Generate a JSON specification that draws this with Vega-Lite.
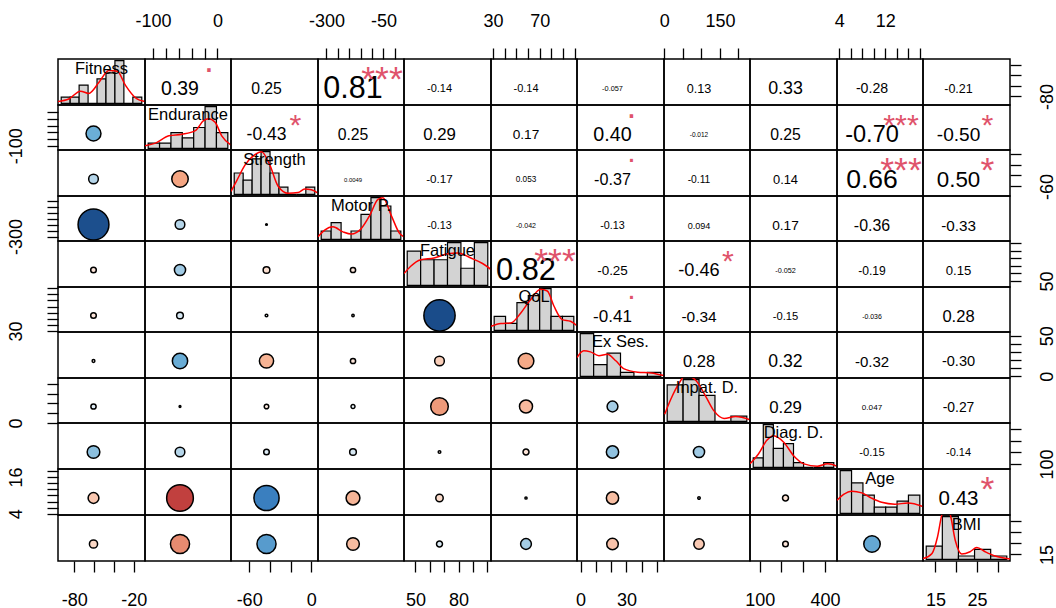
{"$schema":"https://vega.github.io/schema/vega-lite/v6.json","background":"white","padding":{"left":6,"top":11,"right":0,"bottom":0},"spacing":0,"bounds":"flush","columns":11,
"resolve":{"scale":{"x":"independent","y":"independent","color":"independent","size":"independent"}},
"config":{"view":{"stroke":"black","strokeWidth":1.5},"font":"Liberation Sans","text":{"font":"Liberation Sans","color":"black","baseline":"middle","align":"center"},"axis":{"domain":false,"grid":false,"tickSize":11,"tickWidth":1.3,"tickColor":"black","labelColor":"black","labelFontSize":18,"labelFont":"Liberation Sans","labelFlush":false,"labelOverlap":false,"labelBound":false}},
"concat":[
{"width":87,"height":46,"layer":[
{"data":{"values":[{"b0":-100,"b1":-90,"n":1},{"b0":-90,"b1":-80,"n":1},{"b0":-80,"b1":-70,"n":3},{"b0":-70,"b1":-60,"n":0},{"b0":-60,"b1":-50,"n":4},{"b0":-50,"b1":-40,"n":5},{"b0":-40,"b1":-30,"n":7},{"b0":-30,"b1":-20,"n":0},{"b0":-20,"b1":-10,"n":1}]},"mark":{"type":"rect","fill":"#D3D3D3","stroke":"black","strokeWidth":1.2,"clip":true},"encoding":{"x":{"field":"b0","type":"quantitative","scale":{"domain":[-103.6,-6.4],"nice":false,"zero":false},"axis":null},"x2":{"field":"b1"},"y":{"field":"n","type":"quantitative","scale":{"domain":[-0.28,7.28],"nice":false,"zero":false},"axis":null},"y2":{"datum":0}}},
{"data":{"values":[{"x":-103.6,"y":0.29},{"x":-91.6,"y":0.7},{"x":-78.5,"y":2.0},{"x":-69.2,"y":1.63},{"x":-58,"y":3.4},{"x":-46.8,"y":5.4},{"x":-37.4,"y":5.25},{"x":-28,"y":2.9},{"x":-16.8,"y":0.875},{"x":-6.4,"y":0.29}]},"mark":{"type":"line","color":"#FF0000","strokeWidth":1.5,"clip":true,"interpolate":"monotone"},"encoding":{"x":{"field":"x","type":"quantitative","scale":{"domain":[-103.6,-6.4],"nice":false,"zero":false},"axis":null},"y":{"field":"y","type":"quantitative","scale":{"domain":[-0.28,7.28],"nice":false,"zero":false},"axis":null}}},
{"data":{"values":[{"name":"Fitness"}]},"mark":{"type":"text","fontSize":16.5,"dy":-13},"encoding":{"text":{"field":"name"}}}]},
{"width":86,"height":46,"data":{"values":[{"r":0.39,"absr":0.39,"label":"0.39","sig":"."}]},"layer":[
{"mark":{"type":"text","dx":-8,"dy":7},"encoding":{"text":{"field":"label"},"size":{"field":"absr","type":"quantitative","scale":{"domain":[0,1],"range":[9.2,35.5]},"legend":null}}},
{"mark":{"type":"text","color":"#DF536B","fontSize":35.6,"dx":21,"dy":-21},"encoding":{"text":{"field":"sig"}}},
{"data":{"values":[{"v":-112.5},{"v":21}]},"mark":{"type":"point","opacity":0},"encoding":{"x":{"field":"v","type":"quantitative","scale":{"domain":[-112.5,21],"nice":false,"zero":false},"axis":{"orient":"top","title":null,"labelPadding":18,"values":[-100,-80,-60,-40,-20,0],"labelExpr":"datum.value == -100 || datum.value == 0 ? '' + datum.value : ''"}}}}]},
{"width":87,"height":46,"data":{"values":[{"r":0.25,"absr":0.25,"label":"0.25"}]},"layer":[
{"mark":{"type":"text","dx":-8,"dy":7},"encoding":{"text":{"field":"label"},"size":{"field":"absr","type":"quantitative","scale":{"domain":[0,1],"range":[9.2,35.5]},"legend":null}}},
{"mark":{"type":"point","opacity":0},"encoding":{"x":{"field":"absr","type":"quantitative","axis":null},"y":{"field":"absr","type":"quantitative","axis":null}}}]},
{"width":86,"height":46,"data":{"values":[{"r":0.81,"absr":0.81,"label":"0.81","sig":"***"}]},"layer":[
{"mark":{"type":"text","dx":-8,"dy":7},"encoding":{"text":{"field":"label"},"size":{"field":"absr","type":"quantitative","scale":{"domain":[0,1],"range":[9.2,35.5]},"legend":null}}},
{"mark":{"type":"text","color":"#DF536B","fontSize":35.6,"dx":21,"dy":-2},"encoding":{"text":{"field":"sig"}}},
{"data":{"values":[{"v":-337},{"v":40}]},"mark":{"type":"point","opacity":0},"encoding":{"x":{"field":"v","type":"quantitative","scale":{"domain":[-337,40],"nice":false,"zero":false},"axis":{"orient":"top","title":null,"labelPadding":18,"values":[-300,-250,-200,-150,-100,-50,0],"labelExpr":"datum.value == -300 || datum.value == -50 ? '' + datum.value : ''"}}}}]},
{"width":87,"height":46,"data":{"values":[{"r":-0.14,"absr":0.14,"label":"-0.14"}]},"layer":[
{"mark":{"type":"text","dx":-8,"dy":7},"encoding":{"text":{"field":"label"},"size":{"field":"absr","type":"quantitative","scale":{"domain":[0,1],"range":[7.85,30.3]},"legend":null}}},
{"mark":{"type":"point","opacity":0},"encoding":{"x":{"field":"absr","type":"quantitative","axis":null},"y":{"field":"absr","type":"quantitative","axis":null}}}]},
{"width":86,"height":46,"data":{"values":[{"r":-0.14,"absr":0.14,"label":"-0.14"}]},"layer":[
{"mark":{"type":"text","dx":-8,"dy":7},"encoding":{"text":{"field":"label"},"size":{"field":"absr","type":"quantitative","scale":{"domain":[0,1],"range":[7.85,30.3]},"legend":null}}},
{"data":{"values":[{"v":28.2},{"v":102.1}]},"mark":{"type":"point","opacity":0},"encoding":{"x":{"field":"v","type":"quantitative","scale":{"domain":[28.2,102.1],"nice":false,"zero":false},"axis":{"orient":"top","title":null,"labelPadding":18,"values":[30,40,50,60,70,80,90,100],"labelExpr":"datum.value == 30 || datum.value == 70 ? '' + datum.value : ''"}}}}]},
{"width":87,"height":46,"data":{"values":[{"r":-0.057,"absr":0.057,"label":"-0.057"}]},"layer":[
{"mark":{"type":"text","dx":-8,"dy":7},"encoding":{"text":{"field":"label"},"size":{"field":"absr","type":"quantitative","scale":{"domain":[0,1],"range":[6.31,24.4]},"legend":null}}},
{"mark":{"type":"point","opacity":0},"encoding":{"x":{"field":"absr","type":"quantitative","axis":null},"y":{"field":"absr","type":"quantitative","axis":null}}}]},
{"width":86,"height":46,"data":{"values":[{"r":0.13,"absr":0.13,"label":"0.13"}]},"layer":[
{"mark":{"type":"text","dx":-8,"dy":7},"encoding":{"text":{"field":"label"},"size":{"field":"absr","type":"quantitative","scale":{"domain":[0,1],"range":[9.2,35.5]},"legend":null}}},
{"data":{"values":[{"v":-0.5},{"v":231}]},"mark":{"type":"point","opacity":0},"encoding":{"x":{"field":"v","type":"quantitative","scale":{"domain":[-0.5,231],"nice":false,"zero":false},"axis":{"orient":"top","title":null,"labelPadding":18,"values":[0,50,100,150,200],"labelExpr":"datum.value == 0 || datum.value == 150 ? '' + datum.value : ''"}}}}]},
{"width":87,"height":46,"data":{"values":[{"r":0.33,"absr":0.33,"label":"0.33"}]},"layer":[
{"mark":{"type":"text","dx":-8,"dy":7},"encoding":{"text":{"field":"label"},"size":{"field":"absr","type":"quantitative","scale":{"domain":[0,1],"range":[9.2,35.5]},"legend":null}}},
{"mark":{"type":"point","opacity":0},"encoding":{"x":{"field":"absr","type":"quantitative","axis":null},"y":{"field":"absr","type":"quantitative","axis":null}}}]},
{"width":86,"height":46,"data":{"values":[{"r":-0.28,"absr":0.28,"label":"-0.28"}]},"layer":[
{"mark":{"type":"text","dx":-8,"dy":7},"encoding":{"text":{"field":"label"},"size":{"field":"absr","type":"quantitative","scale":{"domain":[0,1],"range":[7.85,30.3]},"legend":null}}},
{"data":{"values":[{"v":3.6},{"v":18.6}]},"mark":{"type":"point","opacity":0},"encoding":{"x":{"field":"v","type":"quantitative","scale":{"domain":[3.6,18.6],"nice":false,"zero":false},"axis":{"orient":"top","title":null,"labelPadding":18,"values":[4,6,8,10,12,14,16,18],"labelExpr":"datum.value == 4 || datum.value == 12 ? '' + datum.value : ''"}}}}]},
{"width":87,"height":46,"data":{"values":[{"r":-0.21,"absr":0.21,"label":"-0.21"}]},"layer":[
{"mark":{"type":"text","dx":-8,"dy":7},"encoding":{"text":{"field":"label"},"size":{"field":"absr","type":"quantitative","scale":{"domain":[0,1],"range":[7.85,30.3]},"legend":null}}},
{"data":{"values":[{"v":-96.3},{"v":-8.8}]},"mark":{"type":"point","opacity":0},"encoding":{"y":{"field":"v","type":"quantitative","scale":{"domain":[-96.3,-8.8],"nice":false,"zero":false},"axis":{"orient":"right","title":null,"labelPadding":17,"labelAngle":-90,"labelAlign":"center","labelBaseline":"top","values":[-80,-60,-40,-20],"labelExpr":"datum.value == -80 ? '' + datum.value : ''"}}}}]},

{"width":87,"height":45,"data":{"values":[{"r":0.39,"absr":0.39}]},"layer":[
{"mark":{"type":"circle","stroke":"black","strokeWidth":1.5,"opacity":1},"encoding":{"color":{"field":"r","type":"quantitative","scale":{"domain":[-1,-0.7,-0.43,-0.2,0,0.2,0.39,0.66,0.82,1],"range":["#67001f","#c1403e","#f4a582","#fbd9c8","#ffffff","#cfe3f0","#6baed6","#3a7fbf","#1a4c8a","#08306b"],"interpolate":"rgb"},"legend":null},"size":{"field":"absr","type":"quantitative","scale":{"type":"pow","exponent":2,"domain":[0,1],"range":[3,1452]},"legend":null},"xOffset":{"value":-8},"yOffset":{"value":6}}},
{"data":{"values":[{"v":-112.5},{"v":21}]},"mark":{"type":"point","opacity":0},"encoding":{"y":{"field":"v","type":"quantitative","scale":{"domain":[-112.5,21],"nice":false,"zero":false},"axis":{"orient":"left","title":null,"labelPadding":22,"labelAngle":-90,"labelAlign":"center","labelBaseline":"bottom","values":[-100,-80,-60,-40,-20,0],"labelExpr":"datum.value == -100 ? '' + datum.value : ''"}}}}]},
{"width":86,"height":45,"layer":[
{"data":{"values":[{"b0":-120,"b1":-100,"n":1},{"b0":-100,"b1":-80,"n":1},{"b0":-80,"b1":-60,"n":3},{"b0":-60,"b1":-40,"n":2},{"b0":-40,"b1":-20,"n":4},{"b0":-20,"b1":0,"n":8},{"b0":0,"b1":20,"n":3}]},"mark":{"type":"rect","fill":"#D3D3D3","stroke":"black","strokeWidth":1.2,"clip":true},"encoding":{"x":{"field":"b0","type":"quantitative","scale":{"domain":[-125.6,25.6],"nice":false,"zero":false},"axis":null},"x2":{"field":"b1"},"y":{"field":"n","type":"quantitative","scale":{"domain":[-0.32,8.32],"nice":false,"zero":false},"axis":null},"y2":{"datum":0}}},
{"data":{"values":[{"x":-125.6,"y":0.5},{"x":-107,"y":1.0},{"x":-83.7,"y":2.4},{"x":-60.5,"y":2.7},{"x":-37.2,"y":3.4},{"x":-22.7,"y":5.3},{"x":-14,"y":5.7},{"x":-2.3,"y":5.0},{"x":9.3,"y":2.4},{"x":25.6,"y":0.63}]},"mark":{"type":"line","color":"#FF0000","strokeWidth":1.5,"clip":true,"interpolate":"monotone"},"encoding":{"x":{"field":"x","type":"quantitative","scale":{"domain":[-125.6,25.6],"nice":false,"zero":false},"axis":null},"y":{"field":"y","type":"quantitative","scale":{"domain":[-0.32,8.32],"nice":false,"zero":false},"axis":null}}},
{"data":{"values":[{"name":"Endurance"}]},"mark":{"type":"text","fontSize":16.5,"dy":-13},"encoding":{"text":{"field":"name"}}}]},
{"width":87,"height":45,"data":{"values":[{"r":-0.43,"absr":0.43,"label":"-0.43","sig":"*"}]},"layer":[
{"mark":{"type":"text","dx":-8,"dy":7},"encoding":{"text":{"field":"label"},"size":{"field":"absr","type":"quantitative","scale":{"domain":[0,1],"range":[7.85,30.3]},"legend":null}}},
{"mark":{"type":"text","color":"#DF536B","fontSize":30.4,"dx":21,"dy":-2},"encoding":{"text":{"field":"sig"}}},
{"mark":{"type":"point","opacity":0},"encoding":{"x":{"field":"absr","type":"quantitative","axis":null},"y":{"field":"absr","type":"quantitative","axis":null}}}]},
{"width":86,"height":45,"data":{"values":[{"r":0.25,"absr":0.25,"label":"0.25"}]},"layer":[
{"mark":{"type":"text","dx":-8,"dy":7},"encoding":{"text":{"field":"label"},"size":{"field":"absr","type":"quantitative","scale":{"domain":[0,1],"range":[9.2,35.5]},"legend":null}}},
{"mark":{"type":"point","opacity":0},"encoding":{"x":{"field":"absr","type":"quantitative","axis":null},"y":{"field":"absr","type":"quantitative","axis":null}}}]},
{"width":87,"height":45,"data":{"values":[{"r":0.29,"absr":0.29,"label":"0.29"}]},"layer":[
{"mark":{"type":"text","dx":-8,"dy":7},"encoding":{"text":{"field":"label"},"size":{"field":"absr","type":"quantitative","scale":{"domain":[0,1],"range":[9.2,35.5]},"legend":null}}},
{"mark":{"type":"point","opacity":0},"encoding":{"x":{"field":"absr","type":"quantitative","axis":null},"y":{"field":"absr","type":"quantitative","axis":null}}}]},
{"width":86,"height":45,"data":{"values":[{"r":0.17,"absr":0.17,"label":"0.17"}]},"layer":[
{"mark":{"type":"text","dx":-8,"dy":7},"encoding":{"text":{"field":"label"},"size":{"field":"absr","type":"quantitative","scale":{"domain":[0,1],"range":[9.2,35.5]},"legend":null}}},
{"mark":{"type":"point","opacity":0},"encoding":{"x":{"field":"absr","type":"quantitative","axis":null},"y":{"field":"absr","type":"quantitative","axis":null}}}]},
{"width":87,"height":45,"data":{"values":[{"r":0.40,"absr":0.40,"label":"0.40","sig":"."}]},"layer":[
{"mark":{"type":"text","dx":-8,"dy":7},"encoding":{"text":{"field":"label"},"size":{"field":"absr","type":"quantitative","scale":{"domain":[0,1],"range":[9.2,35.5]},"legend":null}}},
{"mark":{"type":"text","color":"#DF536B","fontSize":35.6,"dx":11,"dy":-21},"encoding":{"text":{"field":"sig"}}},
{"mark":{"type":"point","opacity":0},"encoding":{"x":{"field":"absr","type":"quantitative","axis":null},"y":{"field":"absr","type":"quantitative","axis":null}}}]},
{"width":86,"height":45,"data":{"values":[{"r":-0.012,"absr":0.012,"label":"-0.012"}]},"layer":[
{"mark":{"type":"text","dx":-8,"dy":7},"encoding":{"text":{"field":"label"},"size":{"field":"absr","type":"quantitative","scale":{"domain":[0,1],"range":[6.31,24.4]},"legend":null}}},
{"mark":{"type":"point","opacity":0},"encoding":{"x":{"field":"absr","type":"quantitative","axis":null},"y":{"field":"absr","type":"quantitative","axis":null}}}]},
{"width":87,"height":45,"data":{"values":[{"r":0.25,"absr":0.25,"label":"0.25"}]},"layer":[
{"mark":{"type":"text","dx":-8,"dy":7},"encoding":{"text":{"field":"label"},"size":{"field":"absr","type":"quantitative","scale":{"domain":[0,1],"range":[9.2,35.5]},"legend":null}}},
{"mark":{"type":"point","opacity":0},"encoding":{"x":{"field":"absr","type":"quantitative","axis":null},"y":{"field":"absr","type":"quantitative","axis":null}}}]},
{"width":86,"height":45,"data":{"values":[{"r":-0.70,"absr":0.70,"label":"-0.70","sig":"***"}]},"layer":[
{"mark":{"type":"text","dx":-8,"dy":7},"encoding":{"text":{"field":"label"},"size":{"field":"absr","type":"quantitative","scale":{"domain":[0,1],"range":[7.85,30.3]},"legend":null}}},
{"mark":{"type":"text","color":"#DF536B","fontSize":30.4,"dx":21,"dy":-2},"encoding":{"text":{"field":"sig"}}},
{"mark":{"type":"point","opacity":0},"encoding":{"x":{"field":"absr","type":"quantitative","axis":null},"y":{"field":"absr","type":"quantitative","axis":null}}}]},
{"width":87,"height":45,"data":{"values":[{"r":-0.50,"absr":0.50,"label":"-0.50","sig":"*"}]},"layer":[
{"mark":{"type":"text","dx":-8,"dy":7},"encoding":{"text":{"field":"label"},"size":{"field":"absr","type":"quantitative","scale":{"domain":[0,1],"range":[7.85,30.3]},"legend":null}}},
{"mark":{"type":"text","color":"#DF536B","fontSize":30.4,"dx":21,"dy":-2},"encoding":{"text":{"field":"sig"}}},
{"mark":{"type":"point","opacity":0},"encoding":{"x":{"field":"absr","type":"quantitative","axis":null},"y":{"field":"absr","type":"quantitative","axis":null}}}]},

{"width":87,"height":46,"data":{"values":[{"r":0.25,"absr":0.25}]},"layer":[
{"mark":{"type":"circle","stroke":"black","strokeWidth":1.5,"opacity":1},"encoding":{"color":{"field":"r","type":"quantitative","scale":{"domain":[-1,-0.7,-0.43,-0.2,0,0.2,0.39,0.66,0.82,1],"range":["#67001f","#c1403e","#f4a582","#fbd9c8","#ffffff","#cfe3f0","#6baed6","#3a7fbf","#1a4c8a","#08306b"],"interpolate":"rgb"},"legend":null},"size":{"field":"absr","type":"quantitative","scale":{"type":"pow","exponent":2,"domain":[0,1],"range":[3,1452]},"legend":null},"xOffset":{"value":-8},"yOffset":{"value":6}}},
{"mark":{"type":"point","opacity":0},"encoding":{"x":{"field":"absr","type":"quantitative","axis":null},"y":{"field":"absr","type":"quantitative","axis":null}}}]},
{"width":86,"height":46,"data":{"values":[{"r":-0.43,"absr":0.43}]},"layer":[
{"mark":{"type":"circle","stroke":"black","strokeWidth":1.5,"opacity":1},"encoding":{"color":{"field":"r","type":"quantitative","scale":{"domain":[-1,-0.7,-0.43,-0.2,0,0.2,0.39,0.66,0.82,1],"range":["#67001f","#c1403e","#f4a582","#fbd9c8","#ffffff","#cfe3f0","#6baed6","#3a7fbf","#1a4c8a","#08306b"],"interpolate":"rgb"},"legend":null},"size":{"field":"absr","type":"quantitative","scale":{"type":"pow","exponent":2,"domain":[0,1],"range":[3,1452]},"legend":null},"xOffset":{"value":-8},"yOffset":{"value":6}}},
{"mark":{"type":"point","opacity":0},"encoding":{"x":{"field":"absr","type":"quantitative","axis":null},"y":{"field":"absr","type":"quantitative","axis":null}}}]},
{"width":87,"height":46,"layer":[
{"data":{"values":[{"b0":-80,"b1":-70,"n":3},{"b0":-70,"b1":-60,"n":2},{"b0":-60,"b1":-50,"n":5},{"b0":-50,"b1":-40,"n":6},{"b0":-40,"b1":-30,"n":3},{"b0":-30,"b1":-20,"n":1},{"b0":-20,"b1":-10,"n":0},{"b0":-10,"b1":0,"n":0},{"b0":0,"b1":10,"n":1}]},"mark":{"type":"rect","fill":"#D3D3D3","stroke":"black","strokeWidth":1.2,"clip":true},"encoding":{"x":{"field":"b0","type":"quantitative","scale":{"domain":[-83.6,13.6],"nice":false,"zero":false},"axis":null},"x2":{"field":"b1"},"y":{"field":"n","type":"quantitative","scale":{"domain":[-0.24,6.24],"nice":false,"zero":false},"axis":null},"y2":{"datum":0}}},
{"data":{"values":[{"x":-83.6,"y":0.4},{"x":-77.3,"y":1.9},{"x":-68,"y":4.1},{"x":-56.9,"y":5.6},{"x":-49.5,"y":6.0},{"x":-40.2,"y":4.1},{"x":-30.9,"y":1.14},{"x":-19.8,"y":0.15},{"x":-8.7,"y":0.25},{"x":-1.3,"y":0.74},{"x":6.1,"y":0.64},{"x":13.6,"y":0.15}]},"mark":{"type":"line","color":"#FF0000","strokeWidth":1.5,"clip":true,"interpolate":"monotone"},"encoding":{"x":{"field":"x","type":"quantitative","scale":{"domain":[-83.6,13.6],"nice":false,"zero":false},"axis":null},"y":{"field":"y","type":"quantitative","scale":{"domain":[-0.24,6.24],"nice":false,"zero":false},"axis":null}}},
{"data":{"values":[{"name":"Strength"}]},"mark":{"type":"text","fontSize":16.5,"dy":-13},"encoding":{"text":{"field":"name"}}}]},
{"width":86,"height":46,"data":{"values":[{"r":0.0049,"absr":0.0049,"label":"0.0049"}]},"layer":[
{"mark":{"type":"text","dx":-8,"dy":7},"encoding":{"text":{"field":"label"},"size":{"field":"absr","type":"quantitative","scale":{"domain":[0,1],"range":[5.85,22.6]},"legend":null}}},
{"mark":{"type":"point","opacity":0},"encoding":{"x":{"field":"absr","type":"quantitative","axis":null},"y":{"field":"absr","type":"quantitative","axis":null}}}]},
{"width":87,"height":46,"data":{"values":[{"r":-0.17,"absr":0.17,"label":"-0.17"}]},"layer":[
{"mark":{"type":"text","dx":-8,"dy":7},"encoding":{"text":{"field":"label"},"size":{"field":"absr","type":"quantitative","scale":{"domain":[0,1],"range":[7.85,30.3]},"legend":null}}},
{"mark":{"type":"point","opacity":0},"encoding":{"x":{"field":"absr","type":"quantitative","axis":null},"y":{"field":"absr","type":"quantitative","axis":null}}}]},
{"width":86,"height":46,"data":{"values":[{"r":0.053,"absr":0.053,"label":"0.053"}]},"layer":[
{"mark":{"type":"text","dx":-8,"dy":7},"encoding":{"text":{"field":"label"},"size":{"field":"absr","type":"quantitative","scale":{"domain":[0,1],"range":[7.15,27.6]},"legend":null}}},
{"mark":{"type":"point","opacity":0},"encoding":{"x":{"field":"absr","type":"quantitative","axis":null},"y":{"field":"absr","type":"quantitative","axis":null}}}]},
{"width":87,"height":46,"data":{"values":[{"r":-0.37,"absr":0.37,"label":"-0.37","sig":"."}]},"layer":[
{"mark":{"type":"text","dx":-8,"dy":7},"encoding":{"text":{"field":"label"},"size":{"field":"absr","type":"quantitative","scale":{"domain":[0,1],"range":[7.85,30.3]},"legend":null}}},
{"mark":{"type":"text","color":"#DF536B","fontSize":30.4,"dx":11,"dy":-19.6},"encoding":{"text":{"field":"sig"}}},
{"mark":{"type":"point","opacity":0},"encoding":{"x":{"field":"absr","type":"quantitative","axis":null},"y":{"field":"absr","type":"quantitative","axis":null}}}]},
{"width":86,"height":46,"data":{"values":[{"r":-0.11,"absr":0.11,"label":"-0.11"}]},"layer":[
{"mark":{"type":"text","dx":-8,"dy":7},"encoding":{"text":{"field":"label"},"size":{"field":"absr","type":"quantitative","scale":{"domain":[0,1],"range":[7.85,30.3]},"legend":null}}},
{"mark":{"type":"point","opacity":0},"encoding":{"x":{"field":"absr","type":"quantitative","axis":null},"y":{"field":"absr","type":"quantitative","axis":null}}}]},
{"width":87,"height":46,"data":{"values":[{"r":0.14,"absr":0.14,"label":"0.14"}]},"layer":[
{"mark":{"type":"text","dx":-8,"dy":7},"encoding":{"text":{"field":"label"},"size":{"field":"absr","type":"quantitative","scale":{"domain":[0,1],"range":[9.2,35.5]},"legend":null}}},
{"mark":{"type":"point","opacity":0},"encoding":{"x":{"field":"absr","type":"quantitative","axis":null},"y":{"field":"absr","type":"quantitative","axis":null}}}]},
{"width":86,"height":46,"data":{"values":[{"r":0.66,"absr":0.66,"label":"0.66","sig":"***"}]},"layer":[
{"mark":{"type":"text","dx":-8,"dy":7},"encoding":{"text":{"field":"label"},"size":{"field":"absr","type":"quantitative","scale":{"domain":[0,1],"range":[9.2,35.5]},"legend":null}}},
{"mark":{"type":"text","color":"#DF536B","fontSize":35.6,"dx":21,"dy":-2},"encoding":{"text":{"field":"sig"}}},
{"mark":{"type":"point","opacity":0},"encoding":{"x":{"field":"absr","type":"quantitative","axis":null},"y":{"field":"absr","type":"quantitative","axis":null}}}]},
{"width":87,"height":46,"data":{"values":[{"r":0.50,"absr":0.50,"label":"0.50","sig":"*"}]},"layer":[
{"mark":{"type":"text","dx":-8,"dy":7},"encoding":{"text":{"field":"label"},"size":{"field":"absr","type":"quantitative","scale":{"domain":[0,1],"range":[9.2,35.5]},"legend":null}}},
{"mark":{"type":"text","color":"#DF536B","fontSize":35.6,"dx":21,"dy":-2},"encoding":{"text":{"field":"sig"}}},
{"data":{"values":[{"v":-77.5},{"v":6.5}]},"mark":{"type":"point","opacity":0},"encoding":{"y":{"field":"v","type":"quantitative","scale":{"domain":[-77.5,6.5],"nice":false,"zero":false},"axis":{"orient":"right","title":null,"labelPadding":17,"labelAngle":-90,"labelAlign":"center","labelBaseline":"top","values":[-60,-40,-20,0],"labelExpr":"datum.value == -60 ? '' + datum.value : ''"}}}}]},

{"width":87,"height":45,"data":{"values":[{"r":0.81,"absr":0.81}]},"layer":[
{"mark":{"type":"circle","stroke":"black","strokeWidth":1.5,"opacity":1},"encoding":{"color":{"field":"r","type":"quantitative","scale":{"domain":[-1,-0.7,-0.43,-0.2,0,0.2,0.39,0.66,0.82,1],"range":["#67001f","#c1403e","#f4a582","#fbd9c8","#ffffff","#cfe3f0","#6baed6","#3a7fbf","#1a4c8a","#08306b"],"interpolate":"rgb"},"legend":null},"size":{"field":"absr","type":"quantitative","scale":{"type":"pow","exponent":2,"domain":[0,1],"range":[3,1452]},"legend":null},"xOffset":{"value":-8},"yOffset":{"value":6}}},
{"data":{"values":[{"v":-337},{"v":40}]},"mark":{"type":"point","opacity":0},"encoding":{"y":{"field":"v","type":"quantitative","scale":{"domain":[-337,40],"nice":false,"zero":false},"axis":{"orient":"left","title":null,"labelPadding":22,"labelAngle":-90,"labelAlign":"center","labelBaseline":"bottom","values":[-300,-250,-200,-150,-100,-50,0],"labelExpr":"datum.value == -300 ? '' + datum.value : ''"}}}}]},
{"width":86,"height":45,"data":{"values":[{"r":0.25,"absr":0.25}]},"layer":[
{"mark":{"type":"circle","stroke":"black","strokeWidth":1.5,"opacity":1},"encoding":{"color":{"field":"r","type":"quantitative","scale":{"domain":[-1,-0.7,-0.43,-0.2,0,0.2,0.39,0.66,0.82,1],"range":["#67001f","#c1403e","#f4a582","#fbd9c8","#ffffff","#cfe3f0","#6baed6","#3a7fbf","#1a4c8a","#08306b"],"interpolate":"rgb"},"legend":null},"size":{"field":"absr","type":"quantitative","scale":{"type":"pow","exponent":2,"domain":[0,1],"range":[3,1452]},"legend":null},"xOffset":{"value":-8},"yOffset":{"value":6}}},
{"mark":{"type":"point","opacity":0},"encoding":{"x":{"field":"absr","type":"quantitative","axis":null},"y":{"field":"absr","type":"quantitative","axis":null}}}]},
{"width":87,"height":45,"data":{"values":[{"r":0.0049,"absr":0.0049}]},"layer":[
{"mark":{"type":"circle","stroke":"black","strokeWidth":1.5,"opacity":1},"encoding":{"color":{"field":"r","type":"quantitative","scale":{"domain":[-1,-0.7,-0.43,-0.2,0,0.2,0.39,0.66,0.82,1],"range":["#67001f","#c1403e","#f4a582","#fbd9c8","#ffffff","#cfe3f0","#6baed6","#3a7fbf","#1a4c8a","#08306b"],"interpolate":"rgb"},"legend":null},"size":{"field":"absr","type":"quantitative","scale":{"type":"pow","exponent":2,"domain":[0,1],"range":[3,1452]},"legend":null},"xOffset":{"value":-8},"yOffset":{"value":6}}},
{"mark":{"type":"point","opacity":0},"encoding":{"x":{"field":"absr","type":"quantitative","axis":null},"y":{"field":"absr","type":"quantitative","axis":null}}}]},
{"width":86,"height":45,"layer":[
{"data":{"values":[{"b0":-350,"b1":-300,"n":1},{"b0":-300,"b1":-250,"n":2},{"b0":-250,"b1":-200,"n":0},{"b0":-200,"b1":-150,"n":1},{"b0":-150,"b1":-100,"n":3},{"b0":-100,"b1":-50,"n":5},{"b0":-50,"b1":0,"n":4},{"b0":0,"b1":50,"n":1}]},"mark":{"type":"rect","fill":"#D3D3D3","stroke":"black","strokeWidth":1.2,"clip":true},"encoding":{"x":{"field":"b0","type":"quantitative","scale":{"domain":[-366,66],"nice":false,"zero":false},"axis":null},"x2":{"field":"b1"},"y":{"field":"n","type":"quantitative","scale":{"domain":[-0.2,5.2],"nice":false,"zero":false},"axis":null},"y2":{"datum":0}}},
{"data":{"values":[{"x":-366,"y":0.3},{"x":-332.5,"y":1.1},{"x":-290.7,"y":1.5},{"x":-240.5,"y":0.9},{"x":-198.6,"y":0.63},{"x":-148.4,"y":1.3},{"x":-106.5,"y":2.85},{"x":-64.7,"y":4.8},{"x":-39.6,"y":5.0},{"x":2.3,"y":2.85},{"x":44.1,"y":0.7},{"x":66,"y":0.3}]},"mark":{"type":"line","color":"#FF0000","strokeWidth":1.5,"clip":true,"interpolate":"monotone"},"encoding":{"x":{"field":"x","type":"quantitative","scale":{"domain":[-366,66],"nice":false,"zero":false},"axis":null},"y":{"field":"y","type":"quantitative","scale":{"domain":[-0.2,5.2],"nice":false,"zero":false},"axis":null}}},
{"data":{"values":[{"name":"Motor P."}]},"mark":{"type":"text","fontSize":16.5,"dy":-13},"encoding":{"text":{"field":"name"}}}]},
{"width":87,"height":45,"data":{"values":[{"r":-0.13,"absr":0.13,"label":"-0.13"}]},"layer":[
{"mark":{"type":"text","dx":-8,"dy":7},"encoding":{"text":{"field":"label"},"size":{"field":"absr","type":"quantitative","scale":{"domain":[0,1],"range":[7.85,30.3]},"legend":null}}},
{"mark":{"type":"point","opacity":0},"encoding":{"x":{"field":"absr","type":"quantitative","axis":null},"y":{"field":"absr","type":"quantitative","axis":null}}}]},
{"width":86,"height":45,"data":{"values":[{"r":-0.042,"absr":0.042,"label":"-0.042"}]},"layer":[
{"mark":{"type":"text","dx":-8,"dy":7},"encoding":{"text":{"field":"label"},"size":{"field":"absr","type":"quantitative","scale":{"domain":[0,1],"range":[6.31,24.4]},"legend":null}}},
{"mark":{"type":"point","opacity":0},"encoding":{"x":{"field":"absr","type":"quantitative","axis":null},"y":{"field":"absr","type":"quantitative","axis":null}}}]},
{"width":87,"height":45,"data":{"values":[{"r":-0.13,"absr":0.13,"label":"-0.13"}]},"layer":[
{"mark":{"type":"text","dx":-8,"dy":7},"encoding":{"text":{"field":"label"},"size":{"field":"absr","type":"quantitative","scale":{"domain":[0,1],"range":[7.85,30.3]},"legend":null}}},
{"mark":{"type":"point","opacity":0},"encoding":{"x":{"field":"absr","type":"quantitative","axis":null},"y":{"field":"absr","type":"quantitative","axis":null}}}]},
{"width":86,"height":45,"data":{"values":[{"r":0.094,"absr":0.094,"label":"0.094"}]},"layer":[
{"mark":{"type":"text","dx":-8,"dy":7},"encoding":{"text":{"field":"label"},"size":{"field":"absr","type":"quantitative","scale":{"domain":[0,1],"range":[7.15,27.6]},"legend":null}}},
{"mark":{"type":"point","opacity":0},"encoding":{"x":{"field":"absr","type":"quantitative","axis":null},"y":{"field":"absr","type":"quantitative","axis":null}}}]},
{"width":87,"height":45,"data":{"values":[{"r":0.17,"absr":0.17,"label":"0.17"}]},"layer":[
{"mark":{"type":"text","dx":-8,"dy":7},"encoding":{"text":{"field":"label"},"size":{"field":"absr","type":"quantitative","scale":{"domain":[0,1],"range":[9.2,35.5]},"legend":null}}},
{"mark":{"type":"point","opacity":0},"encoding":{"x":{"field":"absr","type":"quantitative","axis":null},"y":{"field":"absr","type":"quantitative","axis":null}}}]},
{"width":86,"height":45,"data":{"values":[{"r":-0.36,"absr":0.36,"label":"-0.36"}]},"layer":[
{"mark":{"type":"text","dx":-8,"dy":7},"encoding":{"text":{"field":"label"},"size":{"field":"absr","type":"quantitative","scale":{"domain":[0,1],"range":[7.85,30.3]},"legend":null}}},
{"mark":{"type":"point","opacity":0},"encoding":{"x":{"field":"absr","type":"quantitative","axis":null},"y":{"field":"absr","type":"quantitative","axis":null}}}]},
{"width":87,"height":45,"data":{"values":[{"r":-0.33,"absr":0.33,"label":"-0.33"}]},"layer":[
{"mark":{"type":"text","dx":-8,"dy":7},"encoding":{"text":{"field":"label"},"size":{"field":"absr","type":"quantitative","scale":{"domain":[0,1],"range":[7.85,30.3]},"legend":null}}},
{"mark":{"type":"point","opacity":0},"encoding":{"x":{"field":"absr","type":"quantitative","axis":null},"y":{"field":"absr","type":"quantitative","axis":null}}}]},

{"width":87,"height":46,"data":{"values":[{"r":-0.14,"absr":0.14}]},"layer":[
{"mark":{"type":"circle","stroke":"black","strokeWidth":1.5,"opacity":1},"encoding":{"color":{"field":"r","type":"quantitative","scale":{"domain":[-1,-0.7,-0.43,-0.2,0,0.2,0.39,0.66,0.82,1],"range":["#67001f","#c1403e","#f4a582","#fbd9c8","#ffffff","#cfe3f0","#6baed6","#3a7fbf","#1a4c8a","#08306b"],"interpolate":"rgb"},"legend":null},"size":{"field":"absr","type":"quantitative","scale":{"type":"pow","exponent":2,"domain":[0,1],"range":[3,1452]},"legend":null},"xOffset":{"value":-8},"yOffset":{"value":6}}},
{"mark":{"type":"point","opacity":0},"encoding":{"x":{"field":"absr","type":"quantitative","axis":null},"y":{"field":"absr","type":"quantitative","axis":null}}}]},
{"width":86,"height":46,"data":{"values":[{"r":0.29,"absr":0.29}]},"layer":[
{"mark":{"type":"circle","stroke":"black","strokeWidth":1.5,"opacity":1},"encoding":{"color":{"field":"r","type":"quantitative","scale":{"domain":[-1,-0.7,-0.43,-0.2,0,0.2,0.39,0.66,0.82,1],"range":["#67001f","#c1403e","#f4a582","#fbd9c8","#ffffff","#cfe3f0","#6baed6","#3a7fbf","#1a4c8a","#08306b"],"interpolate":"rgb"},"legend":null},"size":{"field":"absr","type":"quantitative","scale":{"type":"pow","exponent":2,"domain":[0,1],"range":[3,1452]},"legend":null},"xOffset":{"value":-8},"yOffset":{"value":6}}},
{"mark":{"type":"point","opacity":0},"encoding":{"x":{"field":"absr","type":"quantitative","axis":null},"y":{"field":"absr","type":"quantitative","axis":null}}}]},
{"width":87,"height":46,"data":{"values":[{"r":-0.17,"absr":0.17}]},"layer":[
{"mark":{"type":"circle","stroke":"black","strokeWidth":1.5,"opacity":1},"encoding":{"color":{"field":"r","type":"quantitative","scale":{"domain":[-1,-0.7,-0.43,-0.2,0,0.2,0.39,0.66,0.82,1],"range":["#67001f","#c1403e","#f4a582","#fbd9c8","#ffffff","#cfe3f0","#6baed6","#3a7fbf","#1a4c8a","#08306b"],"interpolate":"rgb"},"legend":null},"size":{"field":"absr","type":"quantitative","scale":{"type":"pow","exponent":2,"domain":[0,1],"range":[3,1452]},"legend":null},"xOffset":{"value":-8},"yOffset":{"value":6}}},
{"mark":{"type":"point","opacity":0},"encoding":{"x":{"field":"absr","type":"quantitative","axis":null},"y":{"field":"absr","type":"quantitative","axis":null}}}]},
{"width":86,"height":46,"data":{"values":[{"r":-0.13,"absr":0.13}]},"layer":[
{"mark":{"type":"circle","stroke":"black","strokeWidth":1.5,"opacity":1},"encoding":{"color":{"field":"r","type":"quantitative","scale":{"domain":[-1,-0.7,-0.43,-0.2,0,0.2,0.39,0.66,0.82,1],"range":["#67001f","#c1403e","#f4a582","#fbd9c8","#ffffff","#cfe3f0","#6baed6","#3a7fbf","#1a4c8a","#08306b"],"interpolate":"rgb"},"legend":null},"size":{"field":"absr","type":"quantitative","scale":{"type":"pow","exponent":2,"domain":[0,1],"range":[3,1452]},"legend":null},"xOffset":{"value":-8},"yOffset":{"value":6}}},
{"mark":{"type":"point","opacity":0},"encoding":{"x":{"field":"absr","type":"quantitative","axis":null},"y":{"field":"absr","type":"quantitative","axis":null}}}]},
{"width":87,"height":46,"layer":[
{"data":{"values":[{"b0":40,"b1":50,"n":4},{"b0":50,"b1":60,"n":3},{"b0":60,"b1":70,"n":3},{"b0":70,"b1":80,"n":5},{"b0":80,"b1":90,"n":2},{"b0":90,"b1":100,"n":5}]},"mark":{"type":"rect","fill":"#D3D3D3","stroke":"black","strokeWidth":1.2,"clip":true},"encoding":{"x":{"field":"b0","type":"quantitative","scale":{"domain":[37.6,102.4],"nice":false,"zero":false},"axis":null},"x2":{"field":"b1"},"y":{"field":"n","type":"quantitative","scale":{"domain":[-0.2,5.2],"nice":false,"zero":false},"axis":null},"y2":{"datum":0}}},
{"data":{"values":[{"x":37.6,"y":1.38},{"x":42.6,"y":2.24},{"x":50.1,"y":3.0},{"x":60,"y":3.2},{"x":70,"y":3.7},{"x":77.5,"y":3.8},{"x":87.4,"y":3.2},{"x":96.1,"y":2.56},{"x":102.4,"y":1.85}]},"mark":{"type":"line","color":"#FF0000","strokeWidth":1.5,"clip":true,"interpolate":"monotone"},"encoding":{"x":{"field":"x","type":"quantitative","scale":{"domain":[37.6,102.4],"nice":false,"zero":false},"axis":null},"y":{"field":"y","type":"quantitative","scale":{"domain":[-0.2,5.2],"nice":false,"zero":false},"axis":null}}},
{"data":{"values":[{"name":"Fatigue"}]},"mark":{"type":"text","fontSize":16.5,"dy":-13},"encoding":{"text":{"field":"name"}}}]},
{"width":86,"height":46,"data":{"values":[{"r":0.82,"absr":0.82,"label":"0.82","sig":"***"}]},"layer":[
{"mark":{"type":"text","dx":-8,"dy":7},"encoding":{"text":{"field":"label"},"size":{"field":"absr","type":"quantitative","scale":{"domain":[0,1],"range":[9.2,35.5]},"legend":null}}},
{"mark":{"type":"text","color":"#DF536B","fontSize":35.6,"dx":21,"dy":-2},"encoding":{"text":{"field":"sig"}}},
{"mark":{"type":"point","opacity":0},"encoding":{"x":{"field":"absr","type":"quantitative","axis":null},"y":{"field":"absr","type":"quantitative","axis":null}}}]},
{"width":87,"height":46,"data":{"values":[{"r":-0.25,"absr":0.25,"label":"-0.25"}]},"layer":[
{"mark":{"type":"text","dx":-8,"dy":7},"encoding":{"text":{"field":"label"},"size":{"field":"absr","type":"quantitative","scale":{"domain":[0,1],"range":[7.85,30.3]},"legend":null}}},
{"mark":{"type":"point","opacity":0},"encoding":{"x":{"field":"absr","type":"quantitative","axis":null},"y":{"field":"absr","type":"quantitative","axis":null}}}]},
{"width":86,"height":46,"data":{"values":[{"r":-0.46,"absr":0.46,"label":"-0.46","sig":"*"}]},"layer":[
{"mark":{"type":"text","dx":-8,"dy":7},"encoding":{"text":{"field":"label"},"size":{"field":"absr","type":"quantitative","scale":{"domain":[0,1],"range":[7.85,30.3]},"legend":null}}},
{"mark":{"type":"text","color":"#DF536B","fontSize":30.4,"dx":21,"dy":-2},"encoding":{"text":{"field":"sig"}}},
{"mark":{"type":"point","opacity":0},"encoding":{"x":{"field":"absr","type":"quantitative","axis":null},"y":{"field":"absr","type":"quantitative","axis":null}}}]},
{"width":87,"height":46,"data":{"values":[{"r":-0.052,"absr":0.052,"label":"-0.052"}]},"layer":[
{"mark":{"type":"text","dx":-8,"dy":7},"encoding":{"text":{"field":"label"},"size":{"field":"absr","type":"quantitative","scale":{"domain":[0,1],"range":[6.31,24.4]},"legend":null}}},
{"mark":{"type":"point","opacity":0},"encoding":{"x":{"field":"absr","type":"quantitative","axis":null},"y":{"field":"absr","type":"quantitative","axis":null}}}]},
{"width":86,"height":46,"data":{"values":[{"r":-0.19,"absr":0.19,"label":"-0.19"}]},"layer":[
{"mark":{"type":"text","dx":-8,"dy":7},"encoding":{"text":{"field":"label"},"size":{"field":"absr","type":"quantitative","scale":{"domain":[0,1],"range":[7.85,30.3]},"legend":null}}},
{"mark":{"type":"point","opacity":0},"encoding":{"x":{"field":"absr","type":"quantitative","axis":null},"y":{"field":"absr","type":"quantitative","axis":null}}}]},
{"width":87,"height":46,"data":{"values":[{"r":0.15,"absr":0.15,"label":"0.15"}]},"layer":[
{"mark":{"type":"text","dx":-8,"dy":7},"encoding":{"text":{"field":"label"},"size":{"field":"absr","type":"quantitative","scale":{"domain":[0,1],"range":[9.2,35.5]},"legend":null}}},
{"data":{"values":[{"v":42},{"v":102.6}]},"mark":{"type":"point","opacity":0},"encoding":{"y":{"field":"v","type":"quantitative","scale":{"domain":[42,102.6],"nice":false,"zero":false},"axis":{"orient":"right","title":null,"labelPadding":17,"labelAngle":-90,"labelAlign":"center","labelBaseline":"top","values":[50,60,70,80,90,100],"labelExpr":"datum.value == 50 ? '' + datum.value : ''"}}}}]},

{"width":87,"height":45,"data":{"values":[{"r":-0.14,"absr":0.14}]},"layer":[
{"mark":{"type":"circle","stroke":"black","strokeWidth":1.5,"opacity":1},"encoding":{"color":{"field":"r","type":"quantitative","scale":{"domain":[-1,-0.7,-0.43,-0.2,0,0.2,0.39,0.66,0.82,1],"range":["#67001f","#c1403e","#f4a582","#fbd9c8","#ffffff","#cfe3f0","#6baed6","#3a7fbf","#1a4c8a","#08306b"],"interpolate":"rgb"},"legend":null},"size":{"field":"absr","type":"quantitative","scale":{"type":"pow","exponent":2,"domain":[0,1],"range":[3,1452]},"legend":null},"xOffset":{"value":-8},"yOffset":{"value":6}}},
{"data":{"values":[{"v":28.2},{"v":102.1}]},"mark":{"type":"point","opacity":0},"encoding":{"y":{"field":"v","type":"quantitative","scale":{"domain":[28.2,102.1],"nice":false,"zero":false},"axis":{"orient":"left","title":null,"labelPadding":22,"labelAngle":-90,"labelAlign":"center","labelBaseline":"bottom","values":[30,40,50,60,70,80,90,100],"labelExpr":"datum.value == 30 ? '' + datum.value : ''"}}}}]},
{"width":86,"height":45,"data":{"values":[{"r":0.17,"absr":0.17}]},"layer":[
{"mark":{"type":"circle","stroke":"black","strokeWidth":1.5,"opacity":1},"encoding":{"color":{"field":"r","type":"quantitative","scale":{"domain":[-1,-0.7,-0.43,-0.2,0,0.2,0.39,0.66,0.82,1],"range":["#67001f","#c1403e","#f4a582","#fbd9c8","#ffffff","#cfe3f0","#6baed6","#3a7fbf","#1a4c8a","#08306b"],"interpolate":"rgb"},"legend":null},"size":{"field":"absr","type":"quantitative","scale":{"type":"pow","exponent":2,"domain":[0,1],"range":[3,1452]},"legend":null},"xOffset":{"value":-8},"yOffset":{"value":6}}},
{"mark":{"type":"point","opacity":0},"encoding":{"x":{"field":"absr","type":"quantitative","axis":null},"y":{"field":"absr","type":"quantitative","axis":null}}}]},
{"width":87,"height":45,"data":{"values":[{"r":0.053,"absr":0.053}]},"layer":[
{"mark":{"type":"circle","stroke":"black","strokeWidth":1.5,"opacity":1},"encoding":{"color":{"field":"r","type":"quantitative","scale":{"domain":[-1,-0.7,-0.43,-0.2,0,0.2,0.39,0.66,0.82,1],"range":["#67001f","#c1403e","#f4a582","#fbd9c8","#ffffff","#cfe3f0","#6baed6","#3a7fbf","#1a4c8a","#08306b"],"interpolate":"rgb"},"legend":null},"size":{"field":"absr","type":"quantitative","scale":{"type":"pow","exponent":2,"domain":[0,1],"range":[3,1452]},"legend":null},"xOffset":{"value":-8},"yOffset":{"value":6}}},
{"mark":{"type":"point","opacity":0},"encoding":{"x":{"field":"absr","type":"quantitative","axis":null},"y":{"field":"absr","type":"quantitative","axis":null}}}]},
{"width":86,"height":45,"data":{"values":[{"r":-0.042,"absr":0.042}]},"layer":[
{"mark":{"type":"circle","stroke":"black","strokeWidth":1.5,"opacity":1},"encoding":{"color":{"field":"r","type":"quantitative","scale":{"domain":[-1,-0.7,-0.43,-0.2,0,0.2,0.39,0.66,0.82,1],"range":["#67001f","#c1403e","#f4a582","#fbd9c8","#ffffff","#cfe3f0","#6baed6","#3a7fbf","#1a4c8a","#08306b"],"interpolate":"rgb"},"legend":null},"size":{"field":"absr","type":"quantitative","scale":{"type":"pow","exponent":2,"domain":[0,1],"range":[3,1452]},"legend":null},"xOffset":{"value":-8},"yOffset":{"value":6}}},
{"mark":{"type":"point","opacity":0},"encoding":{"x":{"field":"absr","type":"quantitative","axis":null},"y":{"field":"absr","type":"quantitative","axis":null}}}]},
{"width":87,"height":45,"data":{"values":[{"r":0.82,"absr":0.82}]},"layer":[
{"mark":{"type":"circle","stroke":"black","strokeWidth":1.5,"opacity":1},"encoding":{"color":{"field":"r","type":"quantitative","scale":{"domain":[-1,-0.7,-0.43,-0.2,0,0.2,0.39,0.66,0.82,1],"range":["#67001f","#c1403e","#f4a582","#fbd9c8","#ffffff","#cfe3f0","#6baed6","#3a7fbf","#1a4c8a","#08306b"],"interpolate":"rgb"},"legend":null},"size":{"field":"absr","type":"quantitative","scale":{"type":"pow","exponent":2,"domain":[0,1],"range":[3,1452]},"legend":null},"xOffset":{"value":-8},"yOffset":{"value":6}}},
{"mark":{"type":"point","opacity":0},"encoding":{"x":{"field":"absr","type":"quantitative","axis":null},"y":{"field":"absr","type":"quantitative","axis":null}}}]},
{"width":86,"height":45,"layer":[
{"data":{"values":[{"b0":30,"b1":40,"n":2},{"b0":40,"b1":50,"n":1},{"b0":50,"b1":60,"n":4},{"b0":60,"b1":70,"n":5},{"b0":70,"b1":80,"n":6},{"b0":80,"b1":90,"n":2},{"b0":90,"b1":100,"n":2}]},"mark":{"type":"rect","fill":"#D3D3D3","stroke":"black","strokeWidth":1.2,"clip":true},"encoding":{"x":{"field":"b0","type":"quantitative","scale":{"domain":[27.2,102.8],"nice":false,"zero":false},"axis":null},"x2":{"field":"b1"},"y":{"field":"n","type":"quantitative","scale":{"domain":[-0.24,6.24],"nice":false,"zero":false},"axis":null},"y2":{"datum":0}}},
{"data":{"values":[{"x":27.2,"y":0.58},{"x":35.9,"y":0.97},{"x":44.7,"y":1.06},{"x":53.4,"y":2.5},{"x":62.1,"y":4.45},{"x":70.8,"y":5.9},{"x":76.7,"y":5.66},{"x":82.5,"y":3.5},{"x":89.8,"y":1.55},{"x":97.1,"y":1.3},{"x":102.8,"y":0.68}]},"mark":{"type":"line","color":"#FF0000","strokeWidth":1.5,"clip":true,"interpolate":"monotone"},"encoding":{"x":{"field":"x","type":"quantitative","scale":{"domain":[27.2,102.8],"nice":false,"zero":false},"axis":null},"y":{"field":"y","type":"quantitative","scale":{"domain":[-0.24,6.24],"nice":false,"zero":false},"axis":null}}},
{"data":{"values":[{"name":"QoL"}]},"mark":{"type":"text","fontSize":16.5,"dy":-13},"encoding":{"text":{"field":"name"}}}]},
{"width":87,"height":45,"data":{"values":[{"r":-0.41,"absr":0.41,"label":"-0.41","sig":"."}]},"layer":[
{"mark":{"type":"text","dx":-8,"dy":7},"encoding":{"text":{"field":"label"},"size":{"field":"absr","type":"quantitative","scale":{"domain":[0,1],"range":[7.85,30.3]},"legend":null}}},
{"mark":{"type":"text","color":"#DF536B","fontSize":30.4,"dx":11,"dy":-19.6},"encoding":{"text":{"field":"sig"}}},
{"mark":{"type":"point","opacity":0},"encoding":{"x":{"field":"absr","type":"quantitative","axis":null},"y":{"field":"absr","type":"quantitative","axis":null}}}]},
{"width":86,"height":45,"data":{"values":[{"r":-0.34,"absr":0.34,"label":"-0.34"}]},"layer":[
{"mark":{"type":"text","dx":-8,"dy":7},"encoding":{"text":{"field":"label"},"size":{"field":"absr","type":"quantitative","scale":{"domain":[0,1],"range":[7.85,30.3]},"legend":null}}},
{"mark":{"type":"point","opacity":0},"encoding":{"x":{"field":"absr","type":"quantitative","axis":null},"y":{"field":"absr","type":"quantitative","axis":null}}}]},
{"width":87,"height":45,"data":{"values":[{"r":-0.15,"absr":0.15,"label":"-0.15"}]},"layer":[
{"mark":{"type":"text","dx":-8,"dy":7},"encoding":{"text":{"field":"label"},"size":{"field":"absr","type":"quantitative","scale":{"domain":[0,1],"range":[7.85,30.3]},"legend":null}}},
{"mark":{"type":"point","opacity":0},"encoding":{"x":{"field":"absr","type":"quantitative","axis":null},"y":{"field":"absr","type":"quantitative","axis":null}}}]},
{"width":86,"height":45,"data":{"values":[{"r":-0.036,"absr":0.036,"label":"-0.036"}]},"layer":[
{"mark":{"type":"text","dx":-8,"dy":7},"encoding":{"text":{"field":"label"},"size":{"field":"absr","type":"quantitative","scale":{"domain":[0,1],"range":[6.31,24.4]},"legend":null}}},
{"mark":{"type":"point","opacity":0},"encoding":{"x":{"field":"absr","type":"quantitative","axis":null},"y":{"field":"absr","type":"quantitative","axis":null}}}]},
{"width":87,"height":45,"data":{"values":[{"r":0.28,"absr":0.28,"label":"0.28"}]},"layer":[
{"mark":{"type":"text","dx":-8,"dy":7},"encoding":{"text":{"field":"label"},"size":{"field":"absr","type":"quantitative","scale":{"domain":[0,1],"range":[9.2,35.5]},"legend":null}}},
{"mark":{"type":"point","opacity":0},"encoding":{"x":{"field":"absr","type":"quantitative","axis":null},"y":{"field":"absr","type":"quantitative","axis":null}}}]},

{"width":87,"height":46,"data":{"values":[{"r":-0.057,"absr":0.057}]},"layer":[
{"mark":{"type":"circle","stroke":"black","strokeWidth":1.5,"opacity":1},"encoding":{"color":{"field":"r","type":"quantitative","scale":{"domain":[-1,-0.7,-0.43,-0.2,0,0.2,0.39,0.66,0.82,1],"range":["#67001f","#c1403e","#f4a582","#fbd9c8","#ffffff","#cfe3f0","#6baed6","#3a7fbf","#1a4c8a","#08306b"],"interpolate":"rgb"},"legend":null},"size":{"field":"absr","type":"quantitative","scale":{"type":"pow","exponent":2,"domain":[0,1],"range":[3,1452]},"legend":null},"xOffset":{"value":-8},"yOffset":{"value":6}}},
{"mark":{"type":"point","opacity":0},"encoding":{"x":{"field":"absr","type":"quantitative","axis":null},"y":{"field":"absr","type":"quantitative","axis":null}}}]},
{"width":86,"height":46,"data":{"values":[{"r":0.40,"absr":0.40}]},"layer":[
{"mark":{"type":"circle","stroke":"black","strokeWidth":1.5,"opacity":1},"encoding":{"color":{"field":"r","type":"quantitative","scale":{"domain":[-1,-0.7,-0.43,-0.2,0,0.2,0.39,0.66,0.82,1],"range":["#67001f","#c1403e","#f4a582","#fbd9c8","#ffffff","#cfe3f0","#6baed6","#3a7fbf","#1a4c8a","#08306b"],"interpolate":"rgb"},"legend":null},"size":{"field":"absr","type":"quantitative","scale":{"type":"pow","exponent":2,"domain":[0,1],"range":[3,1452]},"legend":null},"xOffset":{"value":-8},"yOffset":{"value":6}}},
{"mark":{"type":"point","opacity":0},"encoding":{"x":{"field":"absr","type":"quantitative","axis":null},"y":{"field":"absr","type":"quantitative","axis":null}}}]},
{"width":87,"height":46,"data":{"values":[{"r":-0.37,"absr":0.37}]},"layer":[
{"mark":{"type":"circle","stroke":"black","strokeWidth":1.5,"opacity":1},"encoding":{"color":{"field":"r","type":"quantitative","scale":{"domain":[-1,-0.7,-0.43,-0.2,0,0.2,0.39,0.66,0.82,1],"range":["#67001f","#c1403e","#f4a582","#fbd9c8","#ffffff","#cfe3f0","#6baed6","#3a7fbf","#1a4c8a","#08306b"],"interpolate":"rgb"},"legend":null},"size":{"field":"absr","type":"quantitative","scale":{"type":"pow","exponent":2,"domain":[0,1],"range":[3,1452]},"legend":null},"xOffset":{"value":-8},"yOffset":{"value":6}}},
{"mark":{"type":"point","opacity":0},"encoding":{"x":{"field":"absr","type":"quantitative","axis":null},"y":{"field":"absr","type":"quantitative","axis":null}}}]},
{"width":86,"height":46,"data":{"values":[{"r":-0.13,"absr":0.13}]},"layer":[
{"mark":{"type":"circle","stroke":"black","strokeWidth":1.5,"opacity":1},"encoding":{"color":{"field":"r","type":"quantitative","scale":{"domain":[-1,-0.7,-0.43,-0.2,0,0.2,0.39,0.66,0.82,1],"range":["#67001f","#c1403e","#f4a582","#fbd9c8","#ffffff","#cfe3f0","#6baed6","#3a7fbf","#1a4c8a","#08306b"],"interpolate":"rgb"},"legend":null},"size":{"field":"absr","type":"quantitative","scale":{"type":"pow","exponent":2,"domain":[0,1],"range":[3,1452]},"legend":null},"xOffset":{"value":-8},"yOffset":{"value":6}}},
{"mark":{"type":"point","opacity":0},"encoding":{"x":{"field":"absr","type":"quantitative","axis":null},"y":{"field":"absr","type":"quantitative","axis":null}}}]},
{"width":87,"height":46,"data":{"values":[{"r":-0.25,"absr":0.25}]},"layer":[
{"mark":{"type":"circle","stroke":"black","strokeWidth":1.5,"opacity":1},"encoding":{"color":{"field":"r","type":"quantitative","scale":{"domain":[-1,-0.7,-0.43,-0.2,0,0.2,0.39,0.66,0.82,1],"range":["#67001f","#c1403e","#f4a582","#fbd9c8","#ffffff","#cfe3f0","#6baed6","#3a7fbf","#1a4c8a","#08306b"],"interpolate":"rgb"},"legend":null},"size":{"field":"absr","type":"quantitative","scale":{"type":"pow","exponent":2,"domain":[0,1],"range":[3,1452]},"legend":null},"xOffset":{"value":-8},"yOffset":{"value":6}}},
{"mark":{"type":"point","opacity":0},"encoding":{"x":{"field":"absr","type":"quantitative","axis":null},"y":{"field":"absr","type":"quantitative","axis":null}}}]},
{"width":86,"height":46,"data":{"values":[{"r":-0.41,"absr":0.41}]},"layer":[
{"mark":{"type":"circle","stroke":"black","strokeWidth":1.5,"opacity":1},"encoding":{"color":{"field":"r","type":"quantitative","scale":{"domain":[-1,-0.7,-0.43,-0.2,0,0.2,0.39,0.66,0.82,1],"range":["#67001f","#c1403e","#f4a582","#fbd9c8","#ffffff","#cfe3f0","#6baed6","#3a7fbf","#1a4c8a","#08306b"],"interpolate":"rgb"},"legend":null},"size":{"field":"absr","type":"quantitative","scale":{"type":"pow","exponent":2,"domain":[0,1],"range":[3,1452]},"legend":null},"xOffset":{"value":-8},"yOffset":{"value":6}}},
{"mark":{"type":"point","opacity":0},"encoding":{"x":{"field":"absr","type":"quantitative","axis":null},"y":{"field":"absr","type":"quantitative","axis":null}}}]},
{"width":87,"height":46,"layer":[
{"data":{"values":[{"b0":0,"b1":10,"n":11},{"b0":10,"b1":20,"n":3},{"b0":20,"b1":30,"n":6},{"b0":30,"b1":40,"n":1},{"b0":40,"b1":50,"n":0},{"b0":50,"b1":60,"n":1}]},"mark":{"type":"rect","fill":"#D3D3D3","stroke":"black","strokeWidth":1.2,"clip":true},"encoding":{"x":{"field":"b0","type":"quantitative","scale":{"domain":[-2.4,62.4],"nice":false,"zero":false},"axis":null},"x2":{"field":"b1"},"y":{"field":"n","type":"quantitative","scale":{"domain":[-0.44,11.44],"nice":false,"zero":false},"axis":null},"y2":{"datum":0}}},
{"data":{"values":[{"x":-2.4,"y":4.84},{"x":2.6,"y":6.6},{"x":7.6,"y":6.3},{"x":13.9,"y":5.3},{"x":20.2,"y":5.7},{"x":26.5,"y":4.0},{"x":32.7,"y":1.9},{"x":42.8,"y":1.06},{"x":52.8,"y":0.88},{"x":62.4,"y":0.18}]},"mark":{"type":"line","color":"#FF0000","strokeWidth":1.5,"clip":true,"interpolate":"monotone"},"encoding":{"x":{"field":"x","type":"quantitative","scale":{"domain":[-2.4,62.4],"nice":false,"zero":false},"axis":null},"y":{"field":"y","type":"quantitative","scale":{"domain":[-0.44,11.44],"nice":false,"zero":false},"axis":null}}},
{"data":{"values":[{"name":"Ex Ses."}]},"mark":{"type":"text","fontSize":16.5,"dy":-13},"encoding":{"text":{"field":"name"}}}]},
{"width":86,"height":46,"data":{"values":[{"r":0.28,"absr":0.28,"label":"0.28"}]},"layer":[
{"mark":{"type":"text","dx":-8,"dy":7},"encoding":{"text":{"field":"label"},"size":{"field":"absr","type":"quantitative","scale":{"domain":[0,1],"range":[9.2,35.5]},"legend":null}}},
{"mark":{"type":"point","opacity":0},"encoding":{"x":{"field":"absr","type":"quantitative","axis":null},"y":{"field":"absr","type":"quantitative","axis":null}}}]},
{"width":87,"height":46,"data":{"values":[{"r":0.32,"absr":0.32,"label":"0.32"}]},"layer":[
{"mark":{"type":"text","dx":-8,"dy":7},"encoding":{"text":{"field":"label"},"size":{"field":"absr","type":"quantitative","scale":{"domain":[0,1],"range":[9.2,35.5]},"legend":null}}},
{"mark":{"type":"point","opacity":0},"encoding":{"x":{"field":"absr","type":"quantitative","axis":null},"y":{"field":"absr","type":"quantitative","axis":null}}}]},
{"width":86,"height":46,"data":{"values":[{"r":-0.32,"absr":0.32,"label":"-0.32"}]},"layer":[
{"mark":{"type":"text","dx":-8,"dy":7},"encoding":{"text":{"field":"label"},"size":{"field":"absr","type":"quantitative","scale":{"domain":[0,1],"range":[7.85,30.3]},"legend":null}}},
{"mark":{"type":"point","opacity":0},"encoding":{"x":{"field":"absr","type":"quantitative","axis":null},"y":{"field":"absr","type":"quantitative","axis":null}}}]},
{"width":87,"height":46,"data":{"values":[{"r":-0.30,"absr":0.30,"label":"-0.30"}]},"layer":[
{"mark":{"type":"text","dx":-8,"dy":7},"encoding":{"text":{"field":"label"},"size":{"field":"absr","type":"quantitative","scale":{"domain":[0,1],"range":[7.85,30.3]},"legend":null}}},
{"data":{"values":[{"v":-2.3},{"v":54.5}]},"mark":{"type":"point","opacity":0},"encoding":{"y":{"field":"v","type":"quantitative","scale":{"domain":[-2.3,54.5],"nice":false,"zero":false},"axis":{"orient":"right","title":null,"labelPadding":17,"labelAngle":-90,"labelAlign":"center","labelBaseline":"top","values":[0,10,20,30,40,50],"labelExpr":"datum.value == 0 || datum.value == 50 ? '' + datum.value : ''"}}}}]},

{"width":87,"height":45,"data":{"values":[{"r":0.13,"absr":0.13}]},"layer":[
{"mark":{"type":"circle","stroke":"black","strokeWidth":1.5,"opacity":1},"encoding":{"color":{"field":"r","type":"quantitative","scale":{"domain":[-1,-0.7,-0.43,-0.2,0,0.2,0.39,0.66,0.82,1],"range":["#67001f","#c1403e","#f4a582","#fbd9c8","#ffffff","#cfe3f0","#6baed6","#3a7fbf","#1a4c8a","#08306b"],"interpolate":"rgb"},"legend":null},"size":{"field":"absr","type":"quantitative","scale":{"type":"pow","exponent":2,"domain":[0,1],"range":[3,1452]},"legend":null},"xOffset":{"value":-8},"yOffset":{"value":6}}},
{"data":{"values":[{"v":-0.5},{"v":231}]},"mark":{"type":"point","opacity":0},"encoding":{"y":{"field":"v","type":"quantitative","scale":{"domain":[-0.5,231],"nice":false,"zero":false},"axis":{"orient":"left","title":null,"labelPadding":22,"labelAngle":-90,"labelAlign":"center","labelBaseline":"bottom","values":[0,50,100,150,200],"labelExpr":"datum.value == 0 ? '' + datum.value : ''"}}}}]},
{"width":86,"height":45,"data":{"values":[{"r":-0.012,"absr":0.012}]},"layer":[
{"mark":{"type":"circle","stroke":"black","strokeWidth":1.5,"opacity":1},"encoding":{"color":{"field":"r","type":"quantitative","scale":{"domain":[-1,-0.7,-0.43,-0.2,0,0.2,0.39,0.66,0.82,1],"range":["#67001f","#c1403e","#f4a582","#fbd9c8","#ffffff","#cfe3f0","#6baed6","#3a7fbf","#1a4c8a","#08306b"],"interpolate":"rgb"},"legend":null},"size":{"field":"absr","type":"quantitative","scale":{"type":"pow","exponent":2,"domain":[0,1],"range":[3,1452]},"legend":null},"xOffset":{"value":-8},"yOffset":{"value":6}}},
{"mark":{"type":"point","opacity":0},"encoding":{"x":{"field":"absr","type":"quantitative","axis":null},"y":{"field":"absr","type":"quantitative","axis":null}}}]},
{"width":87,"height":45,"data":{"values":[{"r":-0.11,"absr":0.11}]},"layer":[
{"mark":{"type":"circle","stroke":"black","strokeWidth":1.5,"opacity":1},"encoding":{"color":{"field":"r","type":"quantitative","scale":{"domain":[-1,-0.7,-0.43,-0.2,0,0.2,0.39,0.66,0.82,1],"range":["#67001f","#c1403e","#f4a582","#fbd9c8","#ffffff","#cfe3f0","#6baed6","#3a7fbf","#1a4c8a","#08306b"],"interpolate":"rgb"},"legend":null},"size":{"field":"absr","type":"quantitative","scale":{"type":"pow","exponent":2,"domain":[0,1],"range":[3,1452]},"legend":null},"xOffset":{"value":-8},"yOffset":{"value":6}}},
{"mark":{"type":"point","opacity":0},"encoding":{"x":{"field":"absr","type":"quantitative","axis":null},"y":{"field":"absr","type":"quantitative","axis":null}}}]},
{"width":86,"height":45,"data":{"values":[{"r":0.094,"absr":0.094}]},"layer":[
{"mark":{"type":"circle","stroke":"black","strokeWidth":1.5,"opacity":1},"encoding":{"color":{"field":"r","type":"quantitative","scale":{"domain":[-1,-0.7,-0.43,-0.2,0,0.2,0.39,0.66,0.82,1],"range":["#67001f","#c1403e","#f4a582","#fbd9c8","#ffffff","#cfe3f0","#6baed6","#3a7fbf","#1a4c8a","#08306b"],"interpolate":"rgb"},"legend":null},"size":{"field":"absr","type":"quantitative","scale":{"type":"pow","exponent":2,"domain":[0,1],"range":[3,1452]},"legend":null},"xOffset":{"value":-8},"yOffset":{"value":6}}},
{"mark":{"type":"point","opacity":0},"encoding":{"x":{"field":"absr","type":"quantitative","axis":null},"y":{"field":"absr","type":"quantitative","axis":null}}}]},
{"width":87,"height":45,"data":{"values":[{"r":-0.46,"absr":0.46}]},"layer":[
{"mark":{"type":"circle","stroke":"black","strokeWidth":1.5,"opacity":1},"encoding":{"color":{"field":"r","type":"quantitative","scale":{"domain":[-1,-0.7,-0.43,-0.2,0,0.2,0.39,0.66,0.82,1],"range":["#67001f","#c1403e","#f4a582","#fbd9c8","#ffffff","#cfe3f0","#6baed6","#3a7fbf","#1a4c8a","#08306b"],"interpolate":"rgb"},"legend":null},"size":{"field":"absr","type":"quantitative","scale":{"type":"pow","exponent":2,"domain":[0,1],"range":[3,1452]},"legend":null},"xOffset":{"value":-8},"yOffset":{"value":6}}},
{"mark":{"type":"point","opacity":0},"encoding":{"x":{"field":"absr","type":"quantitative","axis":null},"y":{"field":"absr","type":"quantitative","axis":null}}}]},
{"width":86,"height":45,"data":{"values":[{"r":-0.34,"absr":0.34}]},"layer":[
{"mark":{"type":"circle","stroke":"black","strokeWidth":1.5,"opacity":1},"encoding":{"color":{"field":"r","type":"quantitative","scale":{"domain":[-1,-0.7,-0.43,-0.2,0,0.2,0.39,0.66,0.82,1],"range":["#67001f","#c1403e","#f4a582","#fbd9c8","#ffffff","#cfe3f0","#6baed6","#3a7fbf","#1a4c8a","#08306b"],"interpolate":"rgb"},"legend":null},"size":{"field":"absr","type":"quantitative","scale":{"type":"pow","exponent":2,"domain":[0,1],"range":[3,1452]},"legend":null},"xOffset":{"value":-8},"yOffset":{"value":6}}},
{"mark":{"type":"point","opacity":0},"encoding":{"x":{"field":"absr","type":"quantitative","axis":null},"y":{"field":"absr","type":"quantitative","axis":null}}}]},
{"width":87,"height":45,"data":{"values":[{"r":0.28,"absr":0.28}]},"layer":[
{"mark":{"type":"circle","stroke":"black","strokeWidth":1.5,"opacity":1},"encoding":{"color":{"field":"r","type":"quantitative","scale":{"domain":[-1,-0.7,-0.43,-0.2,0,0.2,0.39,0.66,0.82,1],"range":["#67001f","#c1403e","#f4a582","#fbd9c8","#ffffff","#cfe3f0","#6baed6","#3a7fbf","#1a4c8a","#08306b"],"interpolate":"rgb"},"legend":null},"size":{"field":"absr","type":"quantitative","scale":{"type":"pow","exponent":2,"domain":[0,1],"range":[3,1452]},"legend":null},"xOffset":{"value":-8},"yOffset":{"value":6}}},
{"mark":{"type":"point","opacity":0},"encoding":{"x":{"field":"absr","type":"quantitative","axis":null},"y":{"field":"absr","type":"quantitative","axis":null}}}]},
{"width":86,"height":45,"layer":[
{"data":{"values":[{"b0":0,"b1":50,"n":7},{"b0":50,"b1":100,"n":8},{"b0":100,"b1":150,"n":5},{"b0":150,"b1":200,"n":0},{"b0":200,"b1":250,"n":1}]},"mark":{"type":"rect","fill":"#D3D3D3","stroke":"black","strokeWidth":1.2,"clip":true},"encoding":{"x":{"field":"b0","type":"quantitative","scale":{"domain":[-10,260],"nice":false,"zero":false},"axis":null},"x2":{"field":"b1"},"y":{"field":"n","type":"quantitative","scale":{"domain":[-0.32,8.32],"nice":false,"zero":false},"axis":null},"y2":{"datum":0}}},
{"data":{"values":[{"x":-7.9,"y":1.36},{"x":11,"y":4.2},{"x":37.1,"y":7.3},{"x":58,"y":8.8},{"x":89.4,"y":7.9},{"x":120.9,"y":4.8},{"x":147,"y":2.0},{"x":178.5,"y":0.56},{"x":215,"y":0.93},{"x":260,"y":0.31}]},"mark":{"type":"line","color":"#FF0000","strokeWidth":1.5,"clip":true,"interpolate":"monotone"},"encoding":{"x":{"field":"x","type":"quantitative","scale":{"domain":[-10,260],"nice":false,"zero":false},"axis":null},"y":{"field":"y","type":"quantitative","scale":{"domain":[-0.32,8.32],"nice":false,"zero":false},"axis":null}}},
{"data":{"values":[{"name":"Inpat. D."}]},"mark":{"type":"text","fontSize":16.5,"dy":-13},"encoding":{"text":{"field":"name"}}}]},
{"width":87,"height":45,"data":{"values":[{"r":0.29,"absr":0.29,"label":"0.29"}]},"layer":[
{"mark":{"type":"text","dx":-8,"dy":7},"encoding":{"text":{"field":"label"},"size":{"field":"absr","type":"quantitative","scale":{"domain":[0,1],"range":[9.2,35.5]},"legend":null}}},
{"mark":{"type":"point","opacity":0},"encoding":{"x":{"field":"absr","type":"quantitative","axis":null},"y":{"field":"absr","type":"quantitative","axis":null}}}]},
{"width":86,"height":45,"data":{"values":[{"r":0.047,"absr":0.047,"label":"0.047"}]},"layer":[
{"mark":{"type":"text","dx":-8,"dy":7},"encoding":{"text":{"field":"label"},"size":{"field":"absr","type":"quantitative","scale":{"domain":[0,1],"range":[7.15,27.6]},"legend":null}}},
{"mark":{"type":"point","opacity":0},"encoding":{"x":{"field":"absr","type":"quantitative","axis":null},"y":{"field":"absr","type":"quantitative","axis":null}}}]},
{"width":87,"height":45,"data":{"values":[{"r":-0.27,"absr":0.27,"label":"-0.27"}]},"layer":[
{"mark":{"type":"text","dx":-8,"dy":7},"encoding":{"text":{"field":"label"},"size":{"field":"absr","type":"quantitative","scale":{"domain":[0,1],"range":[7.85,30.3]},"legend":null}}},
{"mark":{"type":"point","opacity":0},"encoding":{"x":{"field":"absr","type":"quantitative","axis":null},"y":{"field":"absr","type":"quantitative","axis":null}}}]},

{"width":87,"height":46,"data":{"values":[{"r":0.33,"absr":0.33}]},"layer":[
{"mark":{"type":"circle","stroke":"black","strokeWidth":1.5,"opacity":1},"encoding":{"color":{"field":"r","type":"quantitative","scale":{"domain":[-1,-0.7,-0.43,-0.2,0,0.2,0.39,0.66,0.82,1],"range":["#67001f","#c1403e","#f4a582","#fbd9c8","#ffffff","#cfe3f0","#6baed6","#3a7fbf","#1a4c8a","#08306b"],"interpolate":"rgb"},"legend":null},"size":{"field":"absr","type":"quantitative","scale":{"type":"pow","exponent":2,"domain":[0,1],"range":[3,1452]},"legend":null},"xOffset":{"value":-8},"yOffset":{"value":6}}},
{"mark":{"type":"point","opacity":0},"encoding":{"x":{"field":"absr","type":"quantitative","axis":null},"y":{"field":"absr","type":"quantitative","axis":null}}}]},
{"width":86,"height":46,"data":{"values":[{"r":0.25,"absr":0.25}]},"layer":[
{"mark":{"type":"circle","stroke":"black","strokeWidth":1.5,"opacity":1},"encoding":{"color":{"field":"r","type":"quantitative","scale":{"domain":[-1,-0.7,-0.43,-0.2,0,0.2,0.39,0.66,0.82,1],"range":["#67001f","#c1403e","#f4a582","#fbd9c8","#ffffff","#cfe3f0","#6baed6","#3a7fbf","#1a4c8a","#08306b"],"interpolate":"rgb"},"legend":null},"size":{"field":"absr","type":"quantitative","scale":{"type":"pow","exponent":2,"domain":[0,1],"range":[3,1452]},"legend":null},"xOffset":{"value":-8},"yOffset":{"value":6}}},
{"mark":{"type":"point","opacity":0},"encoding":{"x":{"field":"absr","type":"quantitative","axis":null},"y":{"field":"absr","type":"quantitative","axis":null}}}]},
{"width":87,"height":46,"data":{"values":[{"r":0.14,"absr":0.14}]},"layer":[
{"mark":{"type":"circle","stroke":"black","strokeWidth":1.5,"opacity":1},"encoding":{"color":{"field":"r","type":"quantitative","scale":{"domain":[-1,-0.7,-0.43,-0.2,0,0.2,0.39,0.66,0.82,1],"range":["#67001f","#c1403e","#f4a582","#fbd9c8","#ffffff","#cfe3f0","#6baed6","#3a7fbf","#1a4c8a","#08306b"],"interpolate":"rgb"},"legend":null},"size":{"field":"absr","type":"quantitative","scale":{"type":"pow","exponent":2,"domain":[0,1],"range":[3,1452]},"legend":null},"xOffset":{"value":-8},"yOffset":{"value":6}}},
{"mark":{"type":"point","opacity":0},"encoding":{"x":{"field":"absr","type":"quantitative","axis":null},"y":{"field":"absr","type":"quantitative","axis":null}}}]},
{"width":86,"height":46,"data":{"values":[{"r":0.17,"absr":0.17}]},"layer":[
{"mark":{"type":"circle","stroke":"black","strokeWidth":1.5,"opacity":1},"encoding":{"color":{"field":"r","type":"quantitative","scale":{"domain":[-1,-0.7,-0.43,-0.2,0,0.2,0.39,0.66,0.82,1],"range":["#67001f","#c1403e","#f4a582","#fbd9c8","#ffffff","#cfe3f0","#6baed6","#3a7fbf","#1a4c8a","#08306b"],"interpolate":"rgb"},"legend":null},"size":{"field":"absr","type":"quantitative","scale":{"type":"pow","exponent":2,"domain":[0,1],"range":[3,1452]},"legend":null},"xOffset":{"value":-8},"yOffset":{"value":6}}},
{"mark":{"type":"point","opacity":0},"encoding":{"x":{"field":"absr","type":"quantitative","axis":null},"y":{"field":"absr","type":"quantitative","axis":null}}}]},
{"width":87,"height":46,"data":{"values":[{"r":-0.052,"absr":0.052}]},"layer":[
{"mark":{"type":"circle","stroke":"black","strokeWidth":1.5,"opacity":1},"encoding":{"color":{"field":"r","type":"quantitative","scale":{"domain":[-1,-0.7,-0.43,-0.2,0,0.2,0.39,0.66,0.82,1],"range":["#67001f","#c1403e","#f4a582","#fbd9c8","#ffffff","#cfe3f0","#6baed6","#3a7fbf","#1a4c8a","#08306b"],"interpolate":"rgb"},"legend":null},"size":{"field":"absr","type":"quantitative","scale":{"type":"pow","exponent":2,"domain":[0,1],"range":[3,1452]},"legend":null},"xOffset":{"value":-8},"yOffset":{"value":6}}},
{"mark":{"type":"point","opacity":0},"encoding":{"x":{"field":"absr","type":"quantitative","axis":null},"y":{"field":"absr","type":"quantitative","axis":null}}}]},
{"width":86,"height":46,"data":{"values":[{"r":-0.15,"absr":0.15}]},"layer":[
{"mark":{"type":"circle","stroke":"black","strokeWidth":1.5,"opacity":1},"encoding":{"color":{"field":"r","type":"quantitative","scale":{"domain":[-1,-0.7,-0.43,-0.2,0,0.2,0.39,0.66,0.82,1],"range":["#67001f","#c1403e","#f4a582","#fbd9c8","#ffffff","#cfe3f0","#6baed6","#3a7fbf","#1a4c8a","#08306b"],"interpolate":"rgb"},"legend":null},"size":{"field":"absr","type":"quantitative","scale":{"type":"pow","exponent":2,"domain":[0,1],"range":[3,1452]},"legend":null},"xOffset":{"value":-8},"yOffset":{"value":6}}},
{"mark":{"type":"point","opacity":0},"encoding":{"x":{"field":"absr","type":"quantitative","axis":null},"y":{"field":"absr","type":"quantitative","axis":null}}}]},
{"width":87,"height":46,"data":{"values":[{"r":0.32,"absr":0.32}]},"layer":[
{"mark":{"type":"circle","stroke":"black","strokeWidth":1.5,"opacity":1},"encoding":{"color":{"field":"r","type":"quantitative","scale":{"domain":[-1,-0.7,-0.43,-0.2,0,0.2,0.39,0.66,0.82,1],"range":["#67001f","#c1403e","#f4a582","#fbd9c8","#ffffff","#cfe3f0","#6baed6","#3a7fbf","#1a4c8a","#08306b"],"interpolate":"rgb"},"legend":null},"size":{"field":"absr","type":"quantitative","scale":{"type":"pow","exponent":2,"domain":[0,1],"range":[3,1452]},"legend":null},"xOffset":{"value":-8},"yOffset":{"value":6}}},
{"mark":{"type":"point","opacity":0},"encoding":{"x":{"field":"absr","type":"quantitative","axis":null},"y":{"field":"absr","type":"quantitative","axis":null}}}]},
{"width":86,"height":46,"data":{"values":[{"r":0.29,"absr":0.29}]},"layer":[
{"mark":{"type":"circle","stroke":"black","strokeWidth":1.5,"opacity":1},"encoding":{"color":{"field":"r","type":"quantitative","scale":{"domain":[-1,-0.7,-0.43,-0.2,0,0.2,0.39,0.66,0.82,1],"range":["#67001f","#c1403e","#f4a582","#fbd9c8","#ffffff","#cfe3f0","#6baed6","#3a7fbf","#1a4c8a","#08306b"],"interpolate":"rgb"},"legend":null},"size":{"field":"absr","type":"quantitative","scale":{"type":"pow","exponent":2,"domain":[0,1],"range":[3,1452]},"legend":null},"xOffset":{"value":-8},"yOffset":{"value":6}}},
{"mark":{"type":"point","opacity":0},"encoding":{"x":{"field":"absr","type":"quantitative","axis":null},"y":{"field":"absr","type":"quantitative","axis":null}}}]},
{"width":87,"height":46,"layer":[
{"data":{"values":[{"b0":50,"b1":100,"n":2},{"b0":100,"b1":150,"n":9},{"b0":150,"b1":200,"n":4},{"b0":200,"b1":250,"n":5},{"b0":250,"b1":300,"n":1},{"b0":300,"b1":350,"n":0},{"b0":350,"b1":400,"n":0},{"b0":400,"b1":450,"n":1}]},"mark":{"type":"rect","fill":"#D3D3D3","stroke":"black","strokeWidth":1.2,"clip":true},"encoding":{"x":{"field":"b0","type":"quantitative","scale":{"domain":[34,466],"nice":false,"zero":false},"axis":null},"x2":{"field":"b1"},"y":{"field":"n","type":"quantitative","scale":{"domain":[-0.36,9.36],"nice":false,"zero":false},"axis":null},"y2":{"datum":0}}},
{"data":{"values":[{"x":34,"y":0.73},{"x":75.9,"y":2.8},{"x":117.7,"y":5.7},{"x":151.2,"y":6.66},{"x":201.4,"y":5.3},{"x":251.6,"y":2.4},{"x":301.8,"y":0.73},{"x":368.8,"y":0.22},{"x":419,"y":0.73},{"x":466,"y":0.22}]},"mark":{"type":"line","color":"#FF0000","strokeWidth":1.5,"clip":true,"interpolate":"monotone"},"encoding":{"x":{"field":"x","type":"quantitative","scale":{"domain":[34,466],"nice":false,"zero":false},"axis":null},"y":{"field":"y","type":"quantitative","scale":{"domain":[-0.36,9.36],"nice":false,"zero":false},"axis":null}}},
{"data":{"values":[{"name":"Diag. D."}]},"mark":{"type":"text","fontSize":16.5,"dy":-13},"encoding":{"text":{"field":"name"}}}]},
{"width":86,"height":46,"data":{"values":[{"r":-0.15,"absr":0.15,"label":"-0.15"}]},"layer":[
{"mark":{"type":"text","dx":-8,"dy":7},"encoding":{"text":{"field":"label"},"size":{"field":"absr","type":"quantitative","scale":{"domain":[0,1],"range":[7.85,30.3]},"legend":null}}},
{"mark":{"type":"point","opacity":0},"encoding":{"x":{"field":"absr","type":"quantitative","axis":null},"y":{"field":"absr","type":"quantitative","axis":null}}}]},
{"width":87,"height":46,"data":{"values":[{"r":-0.14,"absr":0.14,"label":"-0.14"}]},"layer":[
{"mark":{"type":"text","dx":-8,"dy":7},"encoding":{"text":{"field":"label"},"size":{"field":"absr","type":"quantitative","scale":{"domain":[0,1],"range":[7.85,30.3]},"legend":null}}},
{"data":{"values":[{"v":55.6},{"v":455.6}]},"mark":{"type":"point","opacity":0},"encoding":{"y":{"field":"v","type":"quantitative","scale":{"domain":[55.6,455.6],"nice":false,"zero":false},"axis":{"orient":"right","title":null,"labelPadding":17,"labelAngle":-90,"labelAlign":"center","labelBaseline":"top","values":[100,200,300,400],"labelExpr":"datum.value == 100 ? '' + datum.value : ''"}}}}]},

{"width":87,"height":46,"data":{"values":[{"r":-0.28,"absr":0.28}]},"layer":[
{"mark":{"type":"circle","stroke":"black","strokeWidth":1.5,"opacity":1},"encoding":{"color":{"field":"r","type":"quantitative","scale":{"domain":[-1,-0.7,-0.43,-0.2,0,0.2,0.39,0.66,0.82,1],"range":["#67001f","#c1403e","#f4a582","#fbd9c8","#ffffff","#cfe3f0","#6baed6","#3a7fbf","#1a4c8a","#08306b"],"interpolate":"rgb"},"legend":null},"size":{"field":"absr","type":"quantitative","scale":{"type":"pow","exponent":2,"domain":[0,1],"range":[3,1452]},"legend":null},"xOffset":{"value":-8},"yOffset":{"value":6}}},
{"data":{"values":[{"v":3.6},{"v":18.6}]},"mark":{"type":"point","opacity":0},"encoding":{"y":{"field":"v","type":"quantitative","scale":{"domain":[3.6,18.6],"nice":false,"zero":false},"axis":{"orient":"left","title":null,"labelPadding":22,"labelAngle":-90,"labelAlign":"center","labelBaseline":"bottom","values":[4,6,8,10,12,14,16,18],"labelExpr":"datum.value == 4 || datum.value == 16 ? '' + datum.value : ''"}}}}]},
{"width":86,"height":46,"data":{"values":[{"r":-0.70,"absr":0.70}]},"layer":[
{"mark":{"type":"circle","stroke":"black","strokeWidth":1.5,"opacity":1},"encoding":{"color":{"field":"r","type":"quantitative","scale":{"domain":[-1,-0.7,-0.43,-0.2,0,0.2,0.39,0.66,0.82,1],"range":["#67001f","#c1403e","#f4a582","#fbd9c8","#ffffff","#cfe3f0","#6baed6","#3a7fbf","#1a4c8a","#08306b"],"interpolate":"rgb"},"legend":null},"size":{"field":"absr","type":"quantitative","scale":{"type":"pow","exponent":2,"domain":[0,1],"range":[3,1452]},"legend":null},"xOffset":{"value":-8},"yOffset":{"value":6}}},
{"mark":{"type":"point","opacity":0},"encoding":{"x":{"field":"absr","type":"quantitative","axis":null},"y":{"field":"absr","type":"quantitative","axis":null}}}]},
{"width":87,"height":46,"data":{"values":[{"r":0.66,"absr":0.66}]},"layer":[
{"mark":{"type":"circle","stroke":"black","strokeWidth":1.5,"opacity":1},"encoding":{"color":{"field":"r","type":"quantitative","scale":{"domain":[-1,-0.7,-0.43,-0.2,0,0.2,0.39,0.66,0.82,1],"range":["#67001f","#c1403e","#f4a582","#fbd9c8","#ffffff","#cfe3f0","#6baed6","#3a7fbf","#1a4c8a","#08306b"],"interpolate":"rgb"},"legend":null},"size":{"field":"absr","type":"quantitative","scale":{"type":"pow","exponent":2,"domain":[0,1],"range":[3,1452]},"legend":null},"xOffset":{"value":-8},"yOffset":{"value":6}}},
{"mark":{"type":"point","opacity":0},"encoding":{"x":{"field":"absr","type":"quantitative","axis":null},"y":{"field":"absr","type":"quantitative","axis":null}}}]},
{"width":86,"height":46,"data":{"values":[{"r":-0.36,"absr":0.36}]},"layer":[
{"mark":{"type":"circle","stroke":"black","strokeWidth":1.5,"opacity":1},"encoding":{"color":{"field":"r","type":"quantitative","scale":{"domain":[-1,-0.7,-0.43,-0.2,0,0.2,0.39,0.66,0.82,1],"range":["#67001f","#c1403e","#f4a582","#fbd9c8","#ffffff","#cfe3f0","#6baed6","#3a7fbf","#1a4c8a","#08306b"],"interpolate":"rgb"},"legend":null},"size":{"field":"absr","type":"quantitative","scale":{"type":"pow","exponent":2,"domain":[0,1],"range":[3,1452]},"legend":null},"xOffset":{"value":-8},"yOffset":{"value":6}}},
{"mark":{"type":"point","opacity":0},"encoding":{"x":{"field":"absr","type":"quantitative","axis":null},"y":{"field":"absr","type":"quantitative","axis":null}}}]},
{"width":87,"height":46,"data":{"values":[{"r":-0.19,"absr":0.19}]},"layer":[
{"mark":{"type":"circle","stroke":"black","strokeWidth":1.5,"opacity":1},"encoding":{"color":{"field":"r","type":"quantitative","scale":{"domain":[-1,-0.7,-0.43,-0.2,0,0.2,0.39,0.66,0.82,1],"range":["#67001f","#c1403e","#f4a582","#fbd9c8","#ffffff","#cfe3f0","#6baed6","#3a7fbf","#1a4c8a","#08306b"],"interpolate":"rgb"},"legend":null},"size":{"field":"absr","type":"quantitative","scale":{"type":"pow","exponent":2,"domain":[0,1],"range":[3,1452]},"legend":null},"xOffset":{"value":-8},"yOffset":{"value":6}}},
{"mark":{"type":"point","opacity":0},"encoding":{"x":{"field":"absr","type":"quantitative","axis":null},"y":{"field":"absr","type":"quantitative","axis":null}}}]},
{"width":86,"height":46,"data":{"values":[{"r":-0.036,"absr":0.036}]},"layer":[
{"mark":{"type":"circle","stroke":"black","strokeWidth":1.5,"opacity":1},"encoding":{"color":{"field":"r","type":"quantitative","scale":{"domain":[-1,-0.7,-0.43,-0.2,0,0.2,0.39,0.66,0.82,1],"range":["#67001f","#c1403e","#f4a582","#fbd9c8","#ffffff","#cfe3f0","#6baed6","#3a7fbf","#1a4c8a","#08306b"],"interpolate":"rgb"},"legend":null},"size":{"field":"absr","type":"quantitative","scale":{"type":"pow","exponent":2,"domain":[0,1],"range":[3,1452]},"legend":null},"xOffset":{"value":-8},"yOffset":{"value":6}}},
{"mark":{"type":"point","opacity":0},"encoding":{"x":{"field":"absr","type":"quantitative","axis":null},"y":{"field":"absr","type":"quantitative","axis":null}}}]},
{"width":87,"height":46,"data":{"values":[{"r":-0.32,"absr":0.32}]},"layer":[
{"mark":{"type":"circle","stroke":"black","strokeWidth":1.5,"opacity":1},"encoding":{"color":{"field":"r","type":"quantitative","scale":{"domain":[-1,-0.7,-0.43,-0.2,0,0.2,0.39,0.66,0.82,1],"range":["#67001f","#c1403e","#f4a582","#fbd9c8","#ffffff","#cfe3f0","#6baed6","#3a7fbf","#1a4c8a","#08306b"],"interpolate":"rgb"},"legend":null},"size":{"field":"absr","type":"quantitative","scale":{"type":"pow","exponent":2,"domain":[0,1],"range":[3,1452]},"legend":null},"xOffset":{"value":-8},"yOffset":{"value":6}}},
{"mark":{"type":"point","opacity":0},"encoding":{"x":{"field":"absr","type":"quantitative","axis":null},"y":{"field":"absr","type":"quantitative","axis":null}}}]},
{"width":86,"height":46,"data":{"values":[{"r":0.047,"absr":0.047}]},"layer":[
{"mark":{"type":"circle","stroke":"black","strokeWidth":1.5,"opacity":1},"encoding":{"color":{"field":"r","type":"quantitative","scale":{"domain":[-1,-0.7,-0.43,-0.2,0,0.2,0.39,0.66,0.82,1],"range":["#67001f","#c1403e","#f4a582","#fbd9c8","#ffffff","#cfe3f0","#6baed6","#3a7fbf","#1a4c8a","#08306b"],"interpolate":"rgb"},"legend":null},"size":{"field":"absr","type":"quantitative","scale":{"type":"pow","exponent":2,"domain":[0,1],"range":[3,1452]},"legend":null},"xOffset":{"value":-8},"yOffset":{"value":6}}},
{"mark":{"type":"point","opacity":0},"encoding":{"x":{"field":"absr","type":"quantitative","axis":null},"y":{"field":"absr","type":"quantitative","axis":null}}}]},
{"width":87,"height":46,"data":{"values":[{"r":-0.15,"absr":0.15}]},"layer":[
{"mark":{"type":"circle","stroke":"black","strokeWidth":1.5,"opacity":1},"encoding":{"color":{"field":"r","type":"quantitative","scale":{"domain":[-1,-0.7,-0.43,-0.2,0,0.2,0.39,0.66,0.82,1],"range":["#67001f","#c1403e","#f4a582","#fbd9c8","#ffffff","#cfe3f0","#6baed6","#3a7fbf","#1a4c8a","#08306b"],"interpolate":"rgb"},"legend":null},"size":{"field":"absr","type":"quantitative","scale":{"type":"pow","exponent":2,"domain":[0,1],"range":[3,1452]},"legend":null},"xOffset":{"value":-8},"yOffset":{"value":6}}},
{"mark":{"type":"point","opacity":0},"encoding":{"x":{"field":"absr","type":"quantitative","axis":null},"y":{"field":"absr","type":"quantitative","axis":null}}}]},
{"width":86,"height":46,"layer":[
{"data":{"values":[{"b0":4,"b1":6,"n":7},{"b0":6,"b1":8,"n":5},{"b0":8,"b1":10,"n":3},{"b0":10,"b1":12,"n":1},{"b0":12,"b1":14,"n":1},{"b0":14,"b1":16,"n":2},{"b0":16,"b1":18,"n":3}]},"mark":{"type":"rect","fill":"#D3D3D3","stroke":"black","strokeWidth":1.2,"clip":true},"encoding":{"x":{"field":"b0","type":"quantitative","scale":{"domain":[3.44,18.56],"nice":false,"zero":false},"axis":null},"x2":{"field":"b1"},"y":{"field":"n","type":"quantitative","scale":{"domain":[-0.28,7.28],"nice":false,"zero":false},"axis":null},"y2":{"datum":0}}},
{"data":{"values":[{"x":3.44,"y":2.13},{"x":4.6,"y":3.1},{"x":6.05,"y":3.64},{"x":7.8,"y":3.36},{"x":9.5,"y":2.5},{"x":11.3,"y":1.8},{"x":13.6,"y":1.5},{"x":15.9,"y":1.68},{"x":18.56,"y":1.12}]},"mark":{"type":"line","color":"#FF0000","strokeWidth":1.5,"clip":true,"interpolate":"monotone"},"encoding":{"x":{"field":"x","type":"quantitative","scale":{"domain":[3.44,18.56],"nice":false,"zero":false},"axis":null},"y":{"field":"y","type":"quantitative","scale":{"domain":[-0.28,7.28],"nice":false,"zero":false},"axis":null}}},
{"data":{"values":[{"name":"Age"}]},"mark":{"type":"text","fontSize":16.5,"dy":-13},"encoding":{"text":{"field":"name"}}}]},
{"width":87,"height":46,"data":{"values":[{"r":0.43,"absr":0.43,"label":"0.43","sig":"*"}]},"layer":[
{"mark":{"type":"text","dx":-8,"dy":7},"encoding":{"text":{"field":"label"},"size":{"field":"absr","type":"quantitative","scale":{"domain":[0,1],"range":[9.2,35.5]},"legend":null}}},
{"mark":{"type":"text","color":"#DF536B","fontSize":35.6,"dx":21,"dy":-2},"encoding":{"text":{"field":"sig"}}},
{"mark":{"type":"point","opacity":0},"encoding":{"x":{"field":"absr","type":"quantitative","axis":null},"y":{"field":"absr","type":"quantitative","axis":null}}}]},

{"width":87,"height":46,"data":{"values":[{"r":-0.21,"absr":0.21}]},"layer":[
{"mark":{"type":"circle","stroke":"black","strokeWidth":1.5,"opacity":1},"encoding":{"color":{"field":"r","type":"quantitative","scale":{"domain":[-1,-0.7,-0.43,-0.2,0,0.2,0.39,0.66,0.82,1],"range":["#67001f","#c1403e","#f4a582","#fbd9c8","#ffffff","#cfe3f0","#6baed6","#3a7fbf","#1a4c8a","#08306b"],"interpolate":"rgb"},"legend":null},"size":{"field":"absr","type":"quantitative","scale":{"type":"pow","exponent":2,"domain":[0,1],"range":[3,1452]},"legend":null},"xOffset":{"value":-8},"yOffset":{"value":6}}},
{"data":{"values":[{"v":-96.3},{"v":-8.8}]},"mark":{"type":"point","opacity":0},"encoding":{"x":{"field":"v","type":"quantitative","scale":{"domain":[-96.3,-8.8],"nice":false,"zero":false},"axis":{"orient":"bottom","title":null,"labelPadding":19,"values":[-80,-60,-40,-20],"labelExpr":"datum.value == -80 || datum.value == -20 ? '' + datum.value : ''"}}}}]},
{"width":86,"height":46,"data":{"values":[{"r":-0.50,"absr":0.50}]},"layer":[
{"mark":{"type":"circle","stroke":"black","strokeWidth":1.5,"opacity":1},"encoding":{"color":{"field":"r","type":"quantitative","scale":{"domain":[-1,-0.7,-0.43,-0.2,0,0.2,0.39,0.66,0.82,1],"range":["#67001f","#c1403e","#f4a582","#fbd9c8","#ffffff","#cfe3f0","#6baed6","#3a7fbf","#1a4c8a","#08306b"],"interpolate":"rgb"},"legend":null},"size":{"field":"absr","type":"quantitative","scale":{"type":"pow","exponent":2,"domain":[0,1],"range":[3,1452]},"legend":null},"xOffset":{"value":-8},"yOffset":{"value":6}}},
{"mark":{"type":"point","opacity":0},"encoding":{"x":{"field":"absr","type":"quantitative","axis":null},"y":{"field":"absr","type":"quantitative","axis":null}}}]},
{"width":87,"height":46,"data":{"values":[{"r":0.50,"absr":0.50}]},"layer":[
{"mark":{"type":"circle","stroke":"black","strokeWidth":1.5,"opacity":1},"encoding":{"color":{"field":"r","type":"quantitative","scale":{"domain":[-1,-0.7,-0.43,-0.2,0,0.2,0.39,0.66,0.82,1],"range":["#67001f","#c1403e","#f4a582","#fbd9c8","#ffffff","#cfe3f0","#6baed6","#3a7fbf","#1a4c8a","#08306b"],"interpolate":"rgb"},"legend":null},"size":{"field":"absr","type":"quantitative","scale":{"type":"pow","exponent":2,"domain":[0,1],"range":[3,1452]},"legend":null},"xOffset":{"value":-8},"yOffset":{"value":6}}},
{"data":{"values":[{"v":-77.5},{"v":6.5}]},"mark":{"type":"point","opacity":0},"encoding":{"x":{"field":"v","type":"quantitative","scale":{"domain":[-77.5,6.5],"nice":false,"zero":false},"axis":{"orient":"bottom","title":null,"labelPadding":19,"values":[-60,-40,-20,0],"labelExpr":"datum.value == -60 || datum.value == 0 ? '' + datum.value : ''"}}}}]},
{"width":86,"height":46,"data":{"values":[{"r":-0.33,"absr":0.33}]},"layer":[
{"mark":{"type":"circle","stroke":"black","strokeWidth":1.5,"opacity":1},"encoding":{"color":{"field":"r","type":"quantitative","scale":{"domain":[-1,-0.7,-0.43,-0.2,0,0.2,0.39,0.66,0.82,1],"range":["#67001f","#c1403e","#f4a582","#fbd9c8","#ffffff","#cfe3f0","#6baed6","#3a7fbf","#1a4c8a","#08306b"],"interpolate":"rgb"},"legend":null},"size":{"field":"absr","type":"quantitative","scale":{"type":"pow","exponent":2,"domain":[0,1],"range":[3,1452]},"legend":null},"xOffset":{"value":-8},"yOffset":{"value":6}}},
{"mark":{"type":"point","opacity":0},"encoding":{"x":{"field":"absr","type":"quantitative","axis":null},"y":{"field":"absr","type":"quantitative","axis":null}}}]},
{"width":87,"height":46,"data":{"values":[{"r":0.15,"absr":0.15}]},"layer":[
{"mark":{"type":"circle","stroke":"black","strokeWidth":1.5,"opacity":1},"encoding":{"color":{"field":"r","type":"quantitative","scale":{"domain":[-1,-0.7,-0.43,-0.2,0,0.2,0.39,0.66,0.82,1],"range":["#67001f","#c1403e","#f4a582","#fbd9c8","#ffffff","#cfe3f0","#6baed6","#3a7fbf","#1a4c8a","#08306b"],"interpolate":"rgb"},"legend":null},"size":{"field":"absr","type":"quantitative","scale":{"type":"pow","exponent":2,"domain":[0,1],"range":[3,1452]},"legend":null},"xOffset":{"value":-8},"yOffset":{"value":6}}},
{"data":{"values":[{"v":42},{"v":102.6}]},"mark":{"type":"point","opacity":0},"encoding":{"x":{"field":"v","type":"quantitative","scale":{"domain":[42,102.6],"nice":false,"zero":false},"axis":{"orient":"bottom","title":null,"labelPadding":19,"values":[50,60,70,80,90,100],"labelExpr":"datum.value == 50 || datum.value == 80 ? '' + datum.value : ''"}}}}]},
{"width":86,"height":46,"data":{"values":[{"r":0.28,"absr":0.28}]},"layer":[
{"mark":{"type":"circle","stroke":"black","strokeWidth":1.5,"opacity":1},"encoding":{"color":{"field":"r","type":"quantitative","scale":{"domain":[-1,-0.7,-0.43,-0.2,0,0.2,0.39,0.66,0.82,1],"range":["#67001f","#c1403e","#f4a582","#fbd9c8","#ffffff","#cfe3f0","#6baed6","#3a7fbf","#1a4c8a","#08306b"],"interpolate":"rgb"},"legend":null},"size":{"field":"absr","type":"quantitative","scale":{"type":"pow","exponent":2,"domain":[0,1],"range":[3,1452]},"legend":null},"xOffset":{"value":-8},"yOffset":{"value":6}}},
{"mark":{"type":"point","opacity":0},"encoding":{"x":{"field":"absr","type":"quantitative","axis":null},"y":{"field":"absr","type":"quantitative","axis":null}}}]},
{"width":87,"height":46,"data":{"values":[{"r":-0.30,"absr":0.30}]},"layer":[
{"mark":{"type":"circle","stroke":"black","strokeWidth":1.5,"opacity":1},"encoding":{"color":{"field":"r","type":"quantitative","scale":{"domain":[-1,-0.7,-0.43,-0.2,0,0.2,0.39,0.66,0.82,1],"range":["#67001f","#c1403e","#f4a582","#fbd9c8","#ffffff","#cfe3f0","#6baed6","#3a7fbf","#1a4c8a","#08306b"],"interpolate":"rgb"},"legend":null},"size":{"field":"absr","type":"quantitative","scale":{"type":"pow","exponent":2,"domain":[0,1],"range":[3,1452]},"legend":null},"xOffset":{"value":-8},"yOffset":{"value":6}}},
{"data":{"values":[{"v":-2.3},{"v":54.5}]},"mark":{"type":"point","opacity":0},"encoding":{"x":{"field":"v","type":"quantitative","scale":{"domain":[-2.3,54.5],"nice":false,"zero":false},"axis":{"orient":"bottom","title":null,"labelPadding":19,"values":[0,10,20,30,40,50],"labelExpr":"datum.value == 0 || datum.value == 30 ? '' + datum.value : ''"}}}}]},
{"width":86,"height":46,"data":{"values":[{"r":-0.27,"absr":0.27}]},"layer":[
{"mark":{"type":"circle","stroke":"black","strokeWidth":1.5,"opacity":1},"encoding":{"color":{"field":"r","type":"quantitative","scale":{"domain":[-1,-0.7,-0.43,-0.2,0,0.2,0.39,0.66,0.82,1],"range":["#67001f","#c1403e","#f4a582","#fbd9c8","#ffffff","#cfe3f0","#6baed6","#3a7fbf","#1a4c8a","#08306b"],"interpolate":"rgb"},"legend":null},"size":{"field":"absr","type":"quantitative","scale":{"type":"pow","exponent":2,"domain":[0,1],"range":[3,1452]},"legend":null},"xOffset":{"value":-8},"yOffset":{"value":6}}},
{"mark":{"type":"point","opacity":0},"encoding":{"x":{"field":"absr","type":"quantitative","axis":null},"y":{"field":"absr","type":"quantitative","axis":null}}}]},
{"width":87,"height":46,"data":{"values":[{"r":-0.14,"absr":0.14}]},"layer":[
{"mark":{"type":"circle","stroke":"black","strokeWidth":1.5,"opacity":1},"encoding":{"color":{"field":"r","type":"quantitative","scale":{"domain":[-1,-0.7,-0.43,-0.2,0,0.2,0.39,0.66,0.82,1],"range":["#67001f","#c1403e","#f4a582","#fbd9c8","#ffffff","#cfe3f0","#6baed6","#3a7fbf","#1a4c8a","#08306b"],"interpolate":"rgb"},"legend":null},"size":{"field":"absr","type":"quantitative","scale":{"type":"pow","exponent":2,"domain":[0,1],"range":[3,1452]},"legend":null},"xOffset":{"value":-8},"yOffset":{"value":6}}},
{"data":{"values":[{"v":55.6},{"v":455.6}]},"mark":{"type":"point","opacity":0},"encoding":{"x":{"field":"v","type":"quantitative","scale":{"domain":[55.6,455.6],"nice":false,"zero":false},"axis":{"orient":"bottom","title":null,"labelPadding":19,"values":[100,200,300,400],"labelExpr":"datum.value == 100 || datum.value == 400 ? '' + datum.value : ''"}}}}]},
{"width":86,"height":46,"data":{"values":[{"r":0.43,"absr":0.43}]},"layer":[
{"mark":{"type":"circle","stroke":"black","strokeWidth":1.5,"opacity":1},"encoding":{"color":{"field":"r","type":"quantitative","scale":{"domain":[-1,-0.7,-0.43,-0.2,0,0.2,0.39,0.66,0.82,1],"range":["#67001f","#c1403e","#f4a582","#fbd9c8","#ffffff","#cfe3f0","#6baed6","#3a7fbf","#1a4c8a","#08306b"],"interpolate":"rgb"},"legend":null},"size":{"field":"absr","type":"quantitative","scale":{"type":"pow","exponent":2,"domain":[0,1],"range":[3,1452]},"legend":null},"xOffset":{"value":-8},"yOffset":{"value":6}}},
{"mark":{"type":"point","opacity":0},"encoding":{"x":{"field":"absr","type":"quantitative","axis":null},"y":{"field":"absr","type":"quantitative","axis":null}}}]},
{"width":87,"height":46,"resolve":{"scale":{"x":"independent","y":"independent"}},"layer":[
{"layer":[
{"data":{"values":[{"b0":10,"b1":15,"n":4},{"b0":15,"b1":20,"n":13},{"b0":20,"b1":25,"n":1},{"b0":25,"b1":30,"n":3},{"b0":30,"b1":35,"n":1}]},"mark":{"type":"rect","fill":"#D3D3D3","stroke":"black","strokeWidth":1.2,"clip":true},"encoding":{"x":{"field":"b0","type":"quantitative","scale":{"domain":[9,36],"nice":false,"zero":false},"axis":null},"x2":{"field":"b1"},"y":{"field":"n","type":"quantitative","scale":{"domain":[-0.52,13.52],"nice":false,"zero":false},"axis":null},"y2":{"datum":0}}},
{"data":{"values":[{"x":9,"y":0.2},{"x":11.8,"y":1.8},{"x":13.5,"y":6.8},{"x":14.9,"y":13.8},{"x":15.9,"y":15.8},{"x":17.4,"y":13.8},{"x":19,"y":5.8},{"x":21,"y":1.6},{"x":23.6,"y":2.3},{"x":25.7,"y":3.6},{"x":28.3,"y":2.3},{"x":31.4,"y":1.0},{"x":36,"y":0.1}]},"mark":{"type":"line","color":"#FF0000","strokeWidth":1.5,"clip":true,"interpolate":"monotone"},"encoding":{"x":{"field":"x","type":"quantitative","scale":{"domain":[9,36],"nice":false,"zero":false},"axis":null},"y":{"field":"y","type":"quantitative","scale":{"domain":[-0.52,13.52],"nice":false,"zero":false},"axis":null}}},
{"data":{"values":[{"name":"BMI"}]},"mark":{"type":"text","fontSize":16.5,"dy":-13},"encoding":{"text":{"field":"name"}}}]},
{"data":{"values":[{"v":12},{"v":32.9}]},"mark":{"type":"point","opacity":0},"encoding":{"x":{"field":"v","type":"quantitative","scale":{"domain":[12,32.9],"nice":false,"zero":false},"axis":{"orient":"bottom","title":null,"labelPadding":19,"values":[15,20,25,30],"labelExpr":"datum.value == 15 || datum.value == 25 ? '' + datum.value : ''"}},"y":{"field":"v","type":"quantitative","scale":{"domain":[12,32.9],"nice":false,"zero":false},"axis":{"orient":"right","title":null,"labelPadding":17,"labelAngle":-90,"labelAlign":"center","labelBaseline":"top","values":[15,20,25,30],"labelExpr":"datum.value == 15 ? '' + datum.value : ''"}}}}]}
]}
